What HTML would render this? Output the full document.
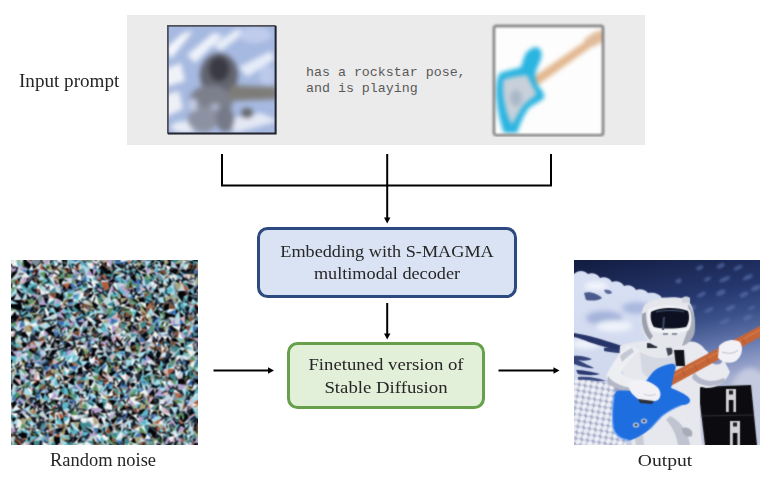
<!DOCTYPE html>
<html><head><meta charset="utf-8">
<style>
html,body{margin:0;padding:0;background:#fff;}
body{width:770px;height:484px;position:relative;overflow:hidden;font-family:"Liberation Serif",serif;color:#262626;}
.a{position:absolute;}
.lbl{position:absolute;white-space:nowrap;font-size:17px;line-height:20px;}
#prompt{left:127px;top:15px;width:518px;height:130.3px;background:#ebebeb;}
#mono{left:306px;top:65px;font-family:"Liberation Mono",monospace;font-size:13.3px;line-height:16px;color:#5a5a5a;white-space:pre;}
.box{position:absolute;box-sizing:border-box;border-radius:10.5px;}
.txt{position:absolute;width:400px;text-align:center;white-space:nowrap;}
#blue{left:257px;top:226.5px;width:260px;height:71.5px;background:#dae3f3;border:3px solid #2c4a80;}
#green{left:287px;top:342px;width:198px;height:67px;background:#e2efd9;border:3px solid #66a04a;}
svg{position:absolute;left:0;top:0;}
svg.img{position:absolute;}
</style></head>
<body>
<div class="lbl" style="left:19px;top:70.5px;font-size:18.6px;transform:scaleX(1.027);transform-origin:0 0;">Input prompt</div>
<div class="a" id="prompt"></div>
<div class="a" id="mono">has a rockstar pose,
and is playing</div>

<svg class="img" style="left:164.7px;top:23.4px" width="114" height="113" viewBox="-2 -2 114 113">
<defs>
<filter id="b1" color-interpolation-filters="sRGB" x="-0.1" y="-0.1" width="1.2" height="1.2"><feGaussianBlur stdDeviation="2.8"/></filter>
<filter id="b1s" color-interpolation-filters="sRGB" x="-0.1" y="-0.1" width="1.2" height="1.2"><feGaussianBlur stdDeviation="0.7"/></filter>
<clipPath id="c1"><rect width="109.5" height="109.3"/></clipPath>
</defs>
<g clip-path="url(#c1)">
<rect width="110" height="110" fill="#a6b9e0"/>
<g filter="url(#b1)">
<path d="M-2 24 L16 8 L26 6 L4 34 Z" fill="#f4f6fb"/>
<path d="M20 30 L46 8 L56 10 L28 38 Z" fill="#eef2fa"/>
<path d="M46 20 L70 4 L80 6 L54 26 Z" fill="#e8eef8"/>
<path d="M-2 44 L14 38 L18 56 L-2 62 Z" fill="#f0f2f8"/>
<path d="M72 42 L104 26 L108 34 L80 52 Z" fill="#e6ecf8"/>
<path d="M-2 70 L12 66 L16 84 L-2 92 Z" fill="#eef0f6"/>
<path d="M60 94 L94 88 L112 96 L68 108 Z" fill="#e4e8f4"/>
<ellipse cx="88" cy="10" rx="16" ry="8" fill="#c0ccec"/>
<ellipse cx="18" cy="102" rx="14" ry="6" fill="#e8ecf6"/>
<ellipse cx="100" cy="50" rx="8" ry="10" fill="#bccaea"/>
<ellipse cx="52" cy="50" rx="19" ry="22" fill="#62646e"/>
<ellipse cx="52" cy="44" rx="10" ry="12" fill="#3a3a44"/>
<ellipse cx="44" cy="76" rx="22" ry="16" fill="#7c808c"/>
<ellipse cx="36" cy="94" rx="15" ry="13" fill="#8c92a2"/>
<ellipse cx="58" cy="94" rx="9" ry="13" fill="#767a88"/>
<path d="M62 60 L110 62 L110 74 L64 76 Z" fill="#7e7c78"/>
<ellipse cx="80" cy="88" rx="6" ry="5" fill="#66666c"/>
<ellipse cx="26" cy="80" rx="5" ry="7" fill="#c0c8e0"/>
<ellipse cx="48" cy="82" rx="5" ry="4" fill="#a8b0c6"/>
</g>
</g>
<path d="M0.9 108.4 V0.9 H108.6" fill="none" stroke="#50505a" stroke-width="1.8" filter="url(#b1s)"/><path d="M108.6 0.9 V108.4 H0.9" fill="none" stroke="#24242c" stroke-width="2" filter="url(#b1s)"/>
</svg>

<svg class="img" style="left:490.2px;top:22.1px" width="116" height="115" viewBox="-4 -4 116 115">
<defs>
<filter id="b2" color-interpolation-filters="sRGB" x="-0.2" y="-0.2" width="1.4" height="1.4"><feGaussianBlur stdDeviation="2.3"/></filter>
<filter id="b2s" color-interpolation-filters="sRGB" x="-0.1" y="-0.1" width="1.2" height="1.2"><feGaussianBlur stdDeviation="0.8"/></filter>
<clipPath id="c2"><rect width="109" height="109"/></clipPath>
</defs>
<rect width="109" height="109" fill="#fdfdfd"/>
<g clip-path="url(#c2)" filter="url(#b2)">
<path d="M38 52 L96 12 L100 19 L44 59 Z" fill="#e2b890"/>
<path d="M90 14 C96 8 104 4 110 4 L112 14 C106 18 100 20 96 22 Z" fill="#e0bc9c"/>
<path d="M6 47 C14 44 22 43 27 41 C29 35 30 29 33 26 C37 22 42 20 45 22 C48 25 48 30 47 33 C45 38 42 43 41 49 C41 54 43 58 45 61 C48 64 51 68 50 72 C46 76 40 78 35 82 C30 88 26 98 23 107 L10 107 C6 96 3 82 2 68 C2 58 3 51 6 47 Z" fill="#2ab4e0"/>
<path d="M9 54 C16 51 24 50 33 49 C36 55 39 62 43 68 C39 72 33 75 29 80 C25 86 21 94 18 99 C13 90 10 78 9 66 Z" fill="#c8d0da"/>
<ellipse cx="22" cy="72" rx="6" ry="8" fill="#aab8c8"/>
</g>
<rect x="0" y="0" width="109" height="109.1" rx="2" fill="none" stroke="#787878" stroke-width="2.4" filter="url(#b2s)"/>
</svg>


<svg width="770" height="484">
<g fill="none" stroke="#000" stroke-width="2">
<path d="M222 154V185.5H551V154"/>
<path d="M387.2 154V218"/>
<path d="M387.2 303V334"/>
<path d="M213.5 370.5H268"/>
<path d="M498.5 370.5H554"/>
</g>
<g fill="#000">
<path d="M384 217.5L390.4 217.5L387.2 223.5Z"/>
<path d="M384 333.5L390.4 333.5L387.2 339.5Z"/>
<path d="M268 367.3L268 373.7L274 370.5Z"/>
<path d="M553.5 367.3L553.5 373.7L559.5 370.5Z"/>
</g>
</svg>

<div class="box" id="blue"></div>
<div class="txt" style="left:187px;top:240px;font-size:17.6px;line-height:22.2px;transform:scaleX(1.035);">Embedding with S-MAGMA<br>multimodal decoder</div>
<div class="box" id="green"></div>
<div class="txt" style="left:186px;top:353px;font-size:17.6px;line-height:22.5px;transform:scaleX(1.066);">Finetuned version of<br>Stable Diffusion</div>

<svg class="img" style="left:11px;top:260px" width="187" height="185" viewBox="0 0 187 185"><defs><filter id="nb" color-interpolation-filters="sRGB" filterUnits="userSpaceOnUse" x="0" y="0" width="187" height="185"><feConvolveMatrix order="3" kernelMatrix="1 2 1 2 4 2 1 2 1" divisor="16" edgeMode="duplicate"/></filter><clipPath id="nc"><rect width="187" height="185"/></clipPath></defs><g clip-path="url(#nc)"><g filter="url(#nb)"><path fill="#04060a" d="M-4 -4L1 -3 -1 2ZM-4 -4L-1 2 -4 2ZM6 -3L8 -5 9 -1ZM29 -4L33 -1 31 0ZM53 -6L55 -3 51 -0ZM71 -3L70 -0 68 1ZM77 -4L81 -0 75 1ZM80 -3L89 2 81 -0ZM108 -4L110 2 105 -2ZM148 -4L148 1 145 1ZM148 -4L153 -0 148 1ZM157 -3L160 1 153 -0ZM181 -4L188 1 182 1ZM188 -3L190 -3 191 1ZM188 -3L191 1 188 1ZM13 -2L21 5 13 6ZM20 2L25 6 21 5ZM31 0L30 3 25 6ZM39 1L43 -0 39 4ZM51 -0L59 -2 51 3ZM70 -0L75 1 75 3ZM110 2L114 6 109 4ZM140 1L145 1 141 4ZM145 1L148 3 145 5ZM153 -0L154 5 148 3ZM160 1L160 7 154 5ZM177 1L182 1 183 6ZM10 5L13 6 16 10ZM13 6L21 5 18 10ZM21 5L25 6 22 10ZM25 6L30 3 22 10ZM39 4L44 6 42 11ZM51 3L57 5 52 8ZM91 4L91 9 86 10ZM91 4L97 10 91 9ZM103 4L109 4 112 10ZM130 4L135 7 130 11ZM145 5L143 11 141 8ZM154 5L157 11 154 9ZM164 4L170 3 168 10ZM191 4L193 10 186 11ZM-3 11L0 9 1 12ZM7 10L6 13 1 12ZM16 10L18 10 18 16ZM16 10L18 16 15 13ZM35 11L36 10 34 12ZM78 9L82 9 82 16ZM86 10L87 15 82 16ZM91 9L97 10 95 15ZM97 10L99 9 101 13ZM97 10L101 13 95 15ZM120 10L118 15 116 15ZM126 10L130 13 123 13ZM130 11L134 9 136 14ZM147 11L154 9 147 13ZM157 11L157 13 156 15ZM157 11L165 8 165 15ZM165 8L168 10 165 15ZM168 10L173 9 173 14ZM176 10L184 8 176 14ZM186 11L193 10 193 15ZM186 11L193 15 187 13ZM195 11L198 14 193 15ZM1 12L6 13 0 20ZM18 16L22 15 25 17ZM22 15L28 13 25 17ZM34 12L38 17 34 19ZM101 13L104 17 102 18ZM104 14L111 13 104 17ZM123 13L125 18 119 18ZM130 13L136 14 133 18ZM183 14L187 13 186 17ZM0 20L-2 26 -6 22ZM6 19L8 17 9 24ZM21 19L18 24 13 23ZM25 17L30 23 26 24ZM47 19L54 18 49 26ZM102 18L100 23 97 22ZM102 18L105 22 100 23ZM119 18L125 18 126 24ZM151 17L152 20 152 23ZM158 17L162 22 157 25ZM163 21L168 19 169 24ZM13 23L18 24 16 30ZM52 24L56 29 51 31ZM59 23L62 30 56 29ZM97 22L100 27 98 29ZM152 23L153 27 147 28ZM176 23L184 26 178 30ZM188 23L192 23 193 29ZM196 22L196 27 193 29ZM5 27L11 33 6 33ZM16 30L18 28 15 32ZM39 31L44 27 37 34ZM49 28L51 31 52 31ZM77 28L83 28 78 34ZM83 28L86 28 88 32ZM122 28L121 33 117 35ZM122 28L126 28 124 34ZM144 29L147 28 149 34ZM144 29L149 34 142 32ZM168 31L174 31 166 34ZM174 31L174 36 166 34ZM178 30L183 35 177 35ZM183 30L187 29 183 35ZM6 33L3 40 -2 39ZM15 32L21 40 16 39ZM30 35L35 34 32 37ZM35 34L37 34 38 38ZM45 32L50 34 46 38ZM45 32L46 38 44 39ZM52 31L53 38 46 38ZM78 34L83 33 78 39ZM83 33L81 37 78 39ZM88 32L90 33 86 38ZM109 34L117 38 110 38ZM124 34L131 33 128 37ZM141 32L144 40 141 39ZM166 34L174 36 173 36ZM166 34L173 36 168 38ZM177 35L182 38 176 40ZM-2 39L3 40 7 44ZM3 40L11 40 7 44ZM16 39L19 45 12 44ZM27 37L28 45 25 45ZM32 37L38 38 35 45ZM46 38L53 38 52 42ZM56 39L63 42 57 42ZM78 39L80 41 79 45ZM86 38L92 40 92 42ZM107 39L110 38 109 44ZM117 38L115 44 109 44ZM117 38L118 38 115 44ZM118 38L124 39 127 44ZM124 39L128 42 127 44ZM128 37L133 38 128 42ZM133 38L135 43 128 42ZM168 38L173 36 172 43ZM176 40L182 38 180 43ZM194 39L197 36 191 41ZM-0 44L7 44 -1 48ZM7 44L6 50 -1 48ZM7 44L10 41 6 50ZM10 41L12 50 6 50ZM28 45L35 45 35 47ZM28 45L35 47 29 48ZM66 43L69 47 62 46ZM66 43L70 43 69 47ZM79 45L78 47 71 49ZM80 41L88 45 83 49ZM118 43L121 48 113 46ZM135 43L139 43 135 48ZM148 43L153 43 152 46ZM159 42L158 49 152 46ZM6 50L12 50 4 51ZM14 47L15 51 9 53ZM21 46L24 49 18 53ZM24 49L29 48 25 53ZM35 47L39 49 38 53ZM42 47L48 48 49 52ZM42 47L49 52 45 53ZM52 48L56 46 57 51ZM62 46L69 47 69 52ZM111 48L110 52 107 52ZM111 48L113 46 110 52ZM130 46L129 51 126 51ZM130 46L135 48 136 54ZM147 49L148 51 142 52ZM152 46L158 49 154 52ZM165 49L168 51 165 55ZM174 46L179 47 178 51ZM182 46L187 52 185 53ZM-6 55L-1 51 -1 58ZM4 51L7 57 -1 58ZM15 51L18 53 13 56ZM32 52L37 57 33 59ZM38 53L45 53 37 57ZM49 52L54 54 54 59ZM54 54L56 60 54 59ZM94 55L94 59 89 59ZM126 51L132 56 124 57ZM142 52L148 51 150 58ZM154 52L157 53 153 59ZM157 53L159 57 153 59ZM157 53L165 55 164 58ZM157 53L164 58 159 57ZM168 51L174 56 169 58ZM174 51L178 55 174 56ZM187 52L192 55 192 58ZM192 55L196 52 195 56ZM-1 58L7 57 5 62ZM11 58L10 61 5 62ZM11 58L13 56 10 61ZM33 59L35 62 29 62ZM73 59L75 58 77 60ZM75 58L83 64 77 60ZM85 57L92 63 87 64ZM114 57L122 56 113 62ZM124 57L129 63 123 62ZM140 55L146 57 145 61ZM153 59L159 57 153 60ZM184 59L189 63 183 63ZM192 58L195 56 192 61ZM35 62L39 64 40 66ZM39 64L43 63 40 66ZM77 60L83 66 76 67ZM118 61L123 62 121 66ZM134 61L139 67 135 65ZM164 64L161 66 157 66ZM169 64L174 64 171 67ZM174 64L179 62 171 67ZM183 63L189 63 182 66ZM-1 67L4 71 -2 71ZM40 66L38 74 33 70ZM40 66L45 65 38 74ZM45 65L46 65 42 71ZM64 67L69 70 61 73ZM76 67L76 73 70 73ZM83 66L85 71 80 72ZM107 67L104 72 101 74ZM116 66L121 66 119 73ZM144 66L147 72 144 71ZM148 67L152 68 147 72ZM157 66L161 66 163 72ZM161 66L168 71 163 72ZM170 66L171 67 171 73ZM170 66L171 73 168 71ZM-5 74L-2 71 -2 77ZM11 72L14 72 8 76ZM14 72L17 78 8 76ZM14 72L18 77 17 78ZM24 73L29 72 27 79ZM38 74L42 71 45 78ZM98 73L101 74 100 77ZM101 74L104 72 104 75ZM137 70L135 78 129 76ZM140 73L144 71 140 76ZM144 71L147 72 149 76ZM196 72L195 75 193 78ZM-2 77L4 77 4 81ZM18 77L23 81 20 82ZM50 78L53 81 50 80ZM88 77L91 77 88 81ZM91 77L95 75 90 82ZM95 75L96 80 90 82ZM100 77L102 83 96 80ZM104 75L112 84 106 82ZM125 76L129 82 124 82ZM135 78L140 76 135 82ZM142 75L148 82 145 82ZM151 76L154 80 148 82ZM157 76L159 80 154 80ZM164 77L163 82 159 80ZM164 77L169 83 163 82ZM176 77L185 81 177 82ZM-5 82L-2 83 -4 88ZM-2 83L5 87 -2 86ZM10 83L14 82 16 85ZM10 83L16 85 12 88ZM34 80L34 87 28 88ZM42 80L44 88 39 88ZM42 80L50 80 48 86ZM56 81L56 88 53 87ZM56 81L62 86 56 88ZM88 81L91 86 87 88ZM102 83L106 82 99 85ZM106 82L112 84 112 88ZM120 82L124 82 119 87ZM124 82L125 85 119 87ZM154 80L159 80 160 86ZM169 83L173 83 170 87ZM173 83L174 88 170 87ZM190 83L197 82 194 87ZM197 82L196 85 194 87ZM5 87L7 91 -0 90ZM12 88L16 85 9 92ZM19 88L26 92 17 90ZM53 87L56 88 56 90ZM80 87L87 88 81 92ZM87 88L84 93 81 92ZM112 88L109 91 104 90ZM115 85L114 91 109 91ZM133 88L136 91 128 93ZM156 84L160 86 157 90ZM160 86L161 85 164 93ZM174 88L175 86 176 90ZM-0 90L-2 95 -7 98ZM-0 90L6 97 -2 95ZM17 90L26 92 22 94ZM34 91L38 90 37 97ZM41 90L43 95 37 97ZM41 90L48 89 43 95ZM70 89L72 96 66 96ZM81 92L84 96 78 96ZM81 92L84 93 84 96ZM84 93L93 92 92 96ZM102 92L99 96 97 97ZM114 91L122 93 114 94ZM136 91L135 95 130 98ZM146 90L151 93 144 97ZM151 93L148 98 144 97ZM169 89L172 91 172 95ZM169 89L172 95 169 95ZM186 91L188 95 182 96ZM194 92L198 93 190 94ZM31 98L33 96 34 99ZM31 98L34 99 29 101ZM37 97L43 99 37 102ZM78 96L78 101 70 101ZM88 98L92 96 92 100ZM92 96L97 97 95 101ZM92 96L95 101 92 100ZM111 95L115 100 111 101ZM124 96L130 98 123 99ZM135 95L141 95 141 100ZM141 95L144 97 141 100ZM144 97L143 102 141 100ZM154 97L155 99 150 100ZM157 97L159 102 155 99ZM162 97L165 99 159 102ZM180 97L182 96 178 101ZM190 94L197 96 198 99ZM16 101L18 103 13 107ZM18 103L24 102 23 107ZM18 103L23 107 21 106ZM61 102L61 106 57 106ZM78 101L78 106 72 106ZM101 103L103 106 97 103ZM106 101L107 106 103 106ZM111 101L116 107 110 104ZM135 101L138 104 137 108ZM143 102L150 100 149 106ZM155 99L159 102 153 106ZM169 101L175 105 170 104ZM175 100L178 101 177 104ZM175 100L177 104 175 105ZM193 99L194 106 187 107ZM-0 107L-1 109 -6 109ZM13 107L21 106 19 109ZM23 107L31 106 24 109ZM51 105L53 109 50 110ZM51 105L57 106 59 110ZM72 106L71 110 67 108ZM72 106L78 106 76 111ZM78 106L82 106 76 111ZM90 107L92 111 88 112ZM103 106L102 110 96 113ZM116 107L120 105 120 112ZM120 105L124 107 120 112ZM145 105L149 106 143 109ZM153 106L157 104 152 111ZM163 105L169 111 164 109ZM170 104L174 111 169 111ZM-6 109L1 114 -6 116ZM13 109L19 109 18 115ZM30 109L34 117 28 113ZM35 112L40 109 34 117ZM64 111L64 116 56 115ZM67 108L71 110 73 115ZM67 108L73 115 66 114ZM76 111L79 110 76 115ZM88 112L92 111 91 115ZM88 112L91 115 88 115ZM102 110L100 117 97 114ZM102 110L106 112 100 117ZM114 111L120 112 119 117ZM114 111L119 117 115 114ZM127 113L132 108 131 115ZM127 113L131 115 123 114ZM133 110L141 111 133 116ZM143 109L145 115 141 114ZM148 109L155 116 151 116ZM182 110L187 112 188 115ZM187 112L192 112 188 115ZM192 112L197 109 197 113ZM4 115L3 118 1 122ZM4 115L9 115 3 118ZM9 115L10 120 3 118ZM16 116L18 115 20 121ZM28 113L33 119 29 120ZM48 114L52 122 49 121ZM53 115L60 118 52 122ZM88 115L91 115 92 119ZM91 115L98 120 92 119ZM104 116L105 120 102 122ZM123 114L129 121 126 120ZM145 115L148 118 143 119ZM157 115L165 122 158 119ZM188 115L193 117 188 119ZM1 122L3 118 6 126ZM3 118L10 126 6 126ZM10 120L14 123 10 126ZM29 120L28 125 22 124ZM45 118L49 121 48 125ZM52 122L53 124 48 125ZM60 118L63 119 64 126ZM60 118L64 126 57 123ZM78 119L83 120 78 126ZM83 120L80 126 78 126ZM111 119L109 127 105 127ZM115 122L119 123 117 127ZM126 120L129 121 125 123ZM167 119L173 118 167 124ZM173 118L175 125 167 124ZM181 118L188 119 187 125ZM-4 124L2 124 1 131ZM14 123L19 127 21 131ZM22 124L28 125 24 128ZM37 123L44 131 39 128ZM48 125L53 127 49 130ZM57 123L57 129 53 127ZM109 127L117 132 111 128ZM117 127L119 123 117 132ZM119 123L125 123 121 129ZM139 127L142 124 143 128ZM142 124L148 128 143 128ZM164 125L163 128 156 131ZM193 125L194 129 186 129ZM193 125L197 127 194 129ZM24 128L24 136 21 135ZM39 128L43 132 37 134ZM44 131L49 130 43 132ZM49 130L53 134 47 136ZM69 130L68 133 62 134ZM72 130L78 130 78 134ZM81 129L88 132 86 134ZM97 129L102 129 96 136ZM111 128L109 133 107 136ZM143 128L144 135 137 135ZM152 132L156 131 158 132ZM163 128L168 130 169 134ZM175 129L183 131 182 135ZM10 134L14 135 16 141ZM29 133L34 133 32 140ZM34 133L37 134 39 141ZM57 135L64 140 57 139ZM82 133L86 134 87 138ZM109 133L114 136 109 140ZM149 136L153 139 148 139ZM155 136L158 132 153 139ZM188 133L194 134 191 139ZM5 140L6 144 -0 143ZM29 139L30 144 22 143ZM42 139L49 140 45 145ZM57 139L57 142 51 143ZM97 140L103 140 102 146ZM103 140L106 141 102 146ZM143 137L144 145 138 144ZM143 137L148 139 148 144ZM-0 143L6 144 1 150ZM14 142L20 145 13 149ZM20 145L24 147 18 151ZM33 142L39 149 32 150ZM69 142L70 146 73 150ZM84 144L92 142 88 148ZM92 142L92 149 88 148ZM113 145L116 150 108 151ZM119 146L120 149 116 150ZM162 143L167 147 161 147ZM166 143L171 151 167 147ZM193 146L196 147 194 149ZM7 150L6 153 -1 153ZM7 150L10 150 6 153ZM45 148L47 149 44 152ZM47 149L52 150 47 152ZM73 150L70 154 67 155ZM77 150L81 148 80 153ZM77 150L80 153 78 153ZM92 149L98 153 89 153ZM105 151L108 151 107 153ZM120 149L126 154 121 155ZM128 150L136 148 129 156ZM136 148L139 155 137 155ZM143 150L146 154 139 155ZM148 150L152 153 147 154ZM181 147L184 154 177 155ZM196 147L199 152 191 154ZM10 152L16 159 8 158ZM24 153L28 160 26 157ZM34 155L38 153 38 159ZM60 155L61 159 59 157ZM78 153L80 153 76 158ZM80 153L82 157 76 158ZM80 153L88 155 87 160ZM107 153L111 155 112 159ZM117 152L121 155 114 160ZM121 155L126 159 118 159ZM126 154L128 157 126 159ZM137 155L139 155 135 158ZM139 155L142 159 140 159ZM152 153L160 157 154 158ZM164 155L161 158 160 157ZM170 153L172 160 168 159ZM175 153L177 155 172 160ZM177 155L178 158 172 160ZM188 155L191 154 191 158ZM191 154L195 160 191 158ZM0 158L6 158 2 163ZM16 159L19 156 14 161ZM44 159L44 164 38 163ZM49 159L53 157 52 164ZM59 157L61 159 61 162ZM59 157L61 162 58 164ZM61 159L68 162 61 162ZM87 160L90 157 93 165ZM87 160L93 165 88 163ZM95 157L94 161 93 165ZM95 157L102 165 94 161ZM99 160L108 156 102 165ZM114 160L118 159 114 163ZM126 159L128 164 127 164ZM135 158L140 159 141 165ZM140 159L142 163 141 165ZM161 158L169 164 165 165ZM168 159L172 160 173 163ZM172 160L178 158 173 163ZM183 156L189 160 187 165ZM189 160L191 158 192 164ZM191 158L195 160 192 164ZM58 164L59 167 55 167ZM68 162L72 170 67 169ZM78 161L75 167 72 170ZM141 165L138 166 133 166ZM142 163L150 168 146 167ZM169 164L170 166 165 169ZM169 164L173 163 170 166ZM173 163L175 169 170 166ZM183 163L187 165 182 170ZM187 165L192 164 189 170ZM43 169L48 168 48 173ZM48 168L55 167 48 173ZM55 167L59 175 53 175ZM59 167L61 167 64 174ZM82 168L86 174 84 172ZM87 168L89 169 86 174ZM89 169L92 172 86 174ZM97 166L102 166 100 173ZM102 166L106 169 107 173ZM110 166L114 169 117 173ZM114 169L120 169 121 172ZM138 166L139 173 136 174ZM138 166L146 173 139 173ZM160 167L162 171 159 173ZM6 174L12 172 11 179ZM12 172L16 173 16 178ZM12 172L16 178 11 179ZM19 172L26 177 20 176ZM22 171L29 176 26 177ZM37 172L42 175 43 176ZM37 172L43 176 38 177ZM100 173L101 178 98 178ZM128 172L136 174 134 179ZM139 173L146 173 144 180ZM155 174L152 176 150 176ZM159 173L164 176 157 177ZM188 172L194 171 186 178ZM194 171L197 177 192 176ZM-6 180L-1 178 1 181ZM16 178L20 176 18 183ZM43 176L49 177 43 181ZM49 177L49 183 43 181ZM58 179L56 182 51 181ZM62 176L68 178 63 183ZM68 178L72 180 66 184ZM72 180L75 181 74 182ZM76 178L80 176 75 181ZM98 178L101 178 102 184ZM113 175L114 184 111 181ZM123 177L126 184 119 182ZM181 179L186 178 183 183ZM43 181L49 183 45 186ZM83 181L87 183 82 185ZM102 184L105 180 100 186ZM151 183L149 187 144 185ZM160 182L163 182 158 188ZM183 183L189 183 182 186ZM189 183L185 186 182 186ZM192 184L199 181 199 189ZM192 184L199 189 192 188ZM2 188L3 193 0 193ZM9 186L13 186 15 190ZM18 189L24 191 21 192ZM45 186L44 193 37 193ZM51 189L59 187 55 190ZM87 186L91 187 92 192ZM97 188L100 186 100 194ZM132 188L134 189 133 191ZM134 189L138 186 137 193ZM144 185L149 187 150 194ZM169 185L173 188 173 192ZM3 193L11 191 5 198ZM15 190L16 198 11 198ZM82 193L84 193 87 196ZM92 192L95 196 91 199ZM95 194L101 197 95 196ZM111 192L117 192 112 195ZM137 193L142 193 146 197ZM165 190L162 198 159 198ZM173 192L179 193 173 196ZM187 190L190 196 188 197Z"/><path fill="#1a2434" d="M16 -4L21 -6 13 -2ZM21 -6L23 -2 20 2ZM44 -6L49 -6 46 2ZM99 -7L101 -1 96 1ZM162 -4L162 2 160 1ZM178 -4L181 -4 182 1ZM46 2L51 3 49 6ZM177 1L178 3 171 5ZM191 1L198 1 191 4ZM2 6L7 7 7 10ZM100 7L103 4 105 11ZM130 4L130 11 126 10ZM160 7L165 8 157 11ZM183 6L186 11 184 8ZM60 9L63 14 57 14ZM63 9L68 10 69 14ZM105 11L112 10 111 13ZM112 10L116 15 111 13ZM120 10L123 13 118 15ZM173 9L176 10 176 14ZM173 9L176 14 173 14ZM184 8L183 14 176 14ZM1 12L0 20 -3 19ZM37 14L41 12 38 17ZM54 13L57 14 54 18ZM90 15L95 20 90 20ZM95 15L102 18 95 20ZM116 15L115 21 109 17ZM118 15L123 13 119 18ZM147 13L152 20 151 17ZM183 14L186 17 184 17ZM66 19L70 21 65 25ZM70 21L76 21 73 23ZM90 20L90 22 86 24ZM102 18L104 17 105 22ZM151 17L148 22 143 25ZM171 17L179 19 171 22ZM186 17L192 17 188 23ZM-6 22L1 27 -4 30ZM49 26L52 24 49 28ZM65 25L73 23 67 28ZM75 22L80 22 83 28ZM86 24L93 30 86 28ZM148 22L147 28 144 29ZM188 23L187 29 183 30ZM18 28L26 29 26 35ZM29 29L30 35 26 35ZM51 31L56 29 57 32ZM51 31L57 32 52 31ZM77 28L78 34 72 32ZM93 30L98 29 97 35ZM98 29L100 27 97 35ZM193 29L195 32 193 33ZM6 33L11 33 11 40ZM11 33L15 32 11 40ZM26 35L25 40 21 40ZM35 34L38 38 32 37ZM90 33L97 35 95 37ZM149 34L155 36 147 38ZM152 32L159 34 160 38ZM56 39L62 39 63 42ZM160 38L159 42 153 43ZM160 38L163 44 159 42ZM197 36L196 43 191 41ZM37 44L42 47 39 49ZM88 45L86 49 83 49ZM95 45L98 48 90 47ZM115 44L118 43 113 46ZM148 43L152 46 147 49ZM159 42L163 44 165 49ZM24 49L25 53 18 53ZM48 48L52 48 49 52ZM56 46L62 46 61 52ZM69 47L73 53 69 52ZM83 49L83 52 79 51ZM121 48L126 46 126 51ZM165 49L166 49 168 51ZM174 46L178 51 174 51ZM182 46L188 48 187 52ZM94 55L100 53 94 59ZM107 52L110 52 106 58ZM-1 58L5 62 -1 64ZM13 56L13 60 10 61ZM13 56L21 57 20 63ZM46 56L54 59 46 61ZM73 59L77 60 73 62ZM80 58L85 57 87 64ZM94 59L99 64 98 63ZM174 56L178 55 174 64ZM-3 64L-1 64 -4 68ZM46 61L51 68 46 65ZM67 62L73 62 69 68ZM83 64L87 64 86 69ZM109 62L113 62 116 66ZM145 61L148 67 144 66ZM95 68L101 74 98 73ZM121 66L125 65 127 74ZM130 69L135 65 137 70ZM152 68L155 72 147 72ZM188 67L187 74 182 72ZM4 71L11 72 8 76ZM48 72L50 78 45 78ZM70 73L78 78 70 76ZM80 72L85 71 88 77ZM114 74L121 78 117 77ZM127 74L129 76 125 76ZM129 74L137 70 129 76ZM163 72L167 78 164 77ZM187 74L187 78 183 78ZM187 74L193 71 187 78ZM-2 77L4 81 -2 83ZM18 77L22 75 23 81ZM22 75L27 79 29 82ZM22 75L29 82 23 81ZM54 76L56 76 53 81ZM61 75L69 80 61 81ZM95 75L100 77 96 80ZM129 76L135 78 135 82ZM142 75L145 82 141 82ZM53 81L56 81 53 87ZM71 82L74 85 65 85ZM77 80L80 87 76 88ZM124 82L129 82 130 85ZM135 82L133 88 130 85ZM159 80L161 85 160 86ZM-2 86L5 87 -0 90ZM53 87L54 90 48 89ZM62 86L62 90 56 90ZM80 87L81 92 78 92ZM87 88L91 86 93 92ZM95 86L99 85 102 92ZM145 87L151 93 146 90ZM26 92L31 98 22 94ZM94 91L102 92 97 97ZM102 92L104 90 104 94ZM122 93L118 97 114 94ZM141 90L141 95 135 95ZM155 92L157 90 157 97ZM33 96L37 97 34 99ZM37 97L37 102 34 99ZM37 97L43 95 43 99ZM88 98L92 100 87 101ZM104 94L111 101 106 101ZM114 94L118 97 115 100ZM144 97L150 100 143 102ZM154 97L157 97 155 99ZM190 94L193 99 187 99ZM190 94L198 99 193 99ZM37 102L40 106 32 106ZM54 100L56 102 57 106ZM150 100L155 99 153 106ZM-6 108L-0 107 -6 109ZM21 106L24 109 19 109ZM31 106L30 109 24 109ZM40 106L42 104 45 110ZM40 106L45 110 40 109ZM107 106L110 104 111 111ZM110 104L114 111 111 111ZM138 104L145 105 141 111ZM175 105L177 104 174 111ZM194 106L195 105 192 112ZM71 110L76 111 76 115ZM120 112L123 114 119 117ZM143 109L151 116 145 115ZM148 109L152 111 155 116ZM164 109L164 114 157 115ZM16 116L20 121 14 119ZM40 116L43 115 45 118ZM64 116L63 119 60 118ZM104 116L109 115 111 119ZM119 117L123 114 121 119ZM123 114L131 115 129 121ZM164 114L167 119 165 122ZM33 119L38 122 35 123ZM74 121L73 125 65 124ZM83 120L85 121 85 123ZM85 121L92 126 85 123ZM173 118L176 125 175 125ZM53 124L57 123 53 127ZM78 126L81 129 78 130ZM187 125L193 125 186 129ZM197 127L195 129 194 129ZM-3 131L1 131 -3 134ZM81 129L82 133 78 134ZM88 132L90 131 89 133ZM117 132L121 129 114 136ZM168 130L171 130 169 134ZM171 130L174 136 169 134ZM183 131L186 129 182 135ZM194 129L195 129 194 134ZM10 134L16 141 9 138ZM53 134L57 139 52 138ZM68 133L73 134 72 139ZM137 135L138 138 136 137ZM144 135L143 137 138 138ZM158 132L163 132 160 138ZM179 135L179 140 172 141ZM194 134L197 133 195 139ZM17 137L24 137 20 145ZM64 140L69 141 69 142ZM117 138L118 138 113 145ZM123 140L129 141 130 143ZM129 141L136 137 130 143ZM136 137L138 138 138 144ZM143 137L148 144 144 145ZM22 143L30 144 31 149ZM50 144L51 143 52 150ZM50 144L52 150 47 149ZM57 142L61 146 58 148ZM130 143L128 150 126 148ZM148 144L148 150 143 150ZM148 144L152 144 153 147ZM162 143L166 143 167 147ZM-5 147L1 150 -4 153ZM13 149L21 155 15 152ZM31 149L28 155 24 153ZM32 150L39 149 34 155ZM94 149L102 150 98 153ZM128 150L129 156 126 154ZM160 147L164 155 159 154ZM167 147L170 153 164 155ZM177 150L181 147 177 155ZM28 155L35 159 28 160ZM52 155L59 157 53 157ZM111 155L114 160 112 159ZM129 156L135 158 128 157ZM188 155L191 158 189 160ZM19 156L26 157 24 164ZM19 156L24 164 21 161ZM28 160L33 161 27 163ZM38 159L38 163 33 161ZM65 160L71 158 68 162ZM112 159L114 160 111 163ZM114 160L114 163 111 163ZM183 156L187 165 183 163ZM2 163L6 165 3 167ZM24 164L24 167 20 168ZM24 164L27 163 28 170ZM27 163L33 161 28 170ZM104 165L111 163 106 169ZM120 162L127 164 120 169ZM135 165L141 165 133 166ZM159 164L165 169 160 167ZM24 167L22 171 19 172ZM35 166L37 170 32 172ZM67 169L72 170 69 172ZM72 170L79 172 72 172ZM75 167L84 172 79 172ZM106 169L110 166 110 171ZM138 166L146 167 146 173ZM165 169L170 166 166 174ZM-3 174L-1 178 -6 180ZM84 172L86 174 85 176ZM146 173L150 176 144 180ZM172 173L173 179 166 177ZM4 176L11 179 11 183ZM62 176L63 183 56 182ZM101 178L105 179 105 180ZM141 179L144 180 137 182ZM152 176L157 177 153 185ZM192 176L197 177 199 181ZM192 176L199 181 192 184ZM11 183L13 182 9 186ZM18 183L23 181 24 189ZM31 180L31 187 24 189ZM38 183L37 187 32 189ZM105 180L111 188 107 185ZM153 185L160 182 158 188ZM163 182L166 183 164 188ZM51 189L55 190 46 192ZM138 186L144 185 142 193ZM176 187L182 186 179 193ZM33 192L37 193 40 196ZM33 192L40 196 32 198ZM46 192L53 196 46 198ZM69 191L65 198 64 196ZM69 191L72 194 65 198ZM82 193L82 197 77 196ZM133 191L137 193 141 197ZM165 190L169 194 168 197ZM165 190L168 197 162 198ZM169 194L173 192 173 196Z"/><path fill="#eef2f2" d="M21 -6L24 -6 23 -2ZM31 -6L37 -3 33 -1ZM49 -6L51 -0 46 2ZM61 -6L69 -3 68 1ZM71 -3L77 -4 75 1ZM77 -4L80 -3 81 -0ZM80 -3L87 -3 89 2ZM99 -7L105 -4 105 -2ZM108 -4L117 1 110 2ZM124 -5L130 -7 123 -1ZM172 -5L171 0 169 0ZM-1 2L5 -1 2 6ZM5 -1L7 7 2 6ZM43 -0L49 6 44 6ZM81 -0L89 2 85 3ZM96 1L100 7 96 5ZM120 -1L123 -1 119 3ZM145 1L145 5 141 4ZM198 1L199 4 191 4ZM-5 6L2 6 0 9ZM21 5L22 10 18 10ZM57 5L60 9 52 8ZM75 3L81 3 82 9ZM85 3L91 4 86 10ZM154 5L160 7 157 11ZM170 3L171 5 168 10ZM178 3L176 10 173 9ZM49 9L48 15 41 12ZM60 9L63 9 63 14ZM130 11L136 14 130 13ZM15 13L13 17 8 17ZM15 13L21 19 13 17ZM41 12L48 15 42 18ZM69 14L70 15 66 19ZM70 15L70 21 66 19ZM75 15L82 16 82 20ZM82 16L87 15 86 21ZM130 13L133 18 131 20ZM136 14L138 16 140 21ZM156 15L157 13 158 17ZM165 15L163 21 158 17ZM176 14L184 17 179 19ZM187 13L193 15 192 17ZM193 15L198 14 196 19ZM38 17L42 18 43 25ZM54 18L52 24 49 26ZM82 20L86 21 86 24ZM82 20L86 24 80 22ZM90 20L97 22 90 22ZM140 21L145 19 140 25ZM145 19L143 25 140 25ZM152 20L157 25 152 23ZM168 19L171 22 169 24ZM-6 22L-2 26 1 27ZM-2 26L3 24 5 27ZM-2 26L5 27 1 27ZM9 24L11 29 5 27ZM26 24L29 29 26 29ZM32 24L38 24 35 31ZM38 24L44 27 39 31ZM61 23L65 25 67 28ZM75 22L83 28 77 28ZM80 22L86 24 83 28ZM100 23L105 22 107 29ZM143 25L148 22 144 29ZM148 22L152 23 147 28ZM-4 30L1 27 0 35ZM29 29L35 34 30 35ZM35 31L39 31 35 34ZM83 28L83 33 78 34ZM100 27L99 34 97 35ZM122 28L124 34 121 33ZM163 30L168 31 166 34ZM187 29L193 29 193 33ZM187 29L193 33 186 34ZM193 29L196 27 195 32ZM69 34L72 32 74 37ZM69 34L74 37 67 40ZM83 33L86 38 81 37ZM124 34L128 37 124 39ZM174 36L176 40 173 36ZM186 34L194 39 185 37ZM38 38L44 39 37 44ZM62 39L67 40 63 42ZM67 40L70 43 66 43ZM81 37L86 38 80 41ZM86 38L88 45 80 41ZM101 39L107 39 103 41ZM-5 44L-1 48 -4 50ZM50 42L52 42 48 48ZM57 42L56 46 52 48ZM95 45L103 47 98 48ZM109 44L115 44 111 48ZM128 42L135 43 135 48ZM144 45L148 43 147 49ZM163 44L166 44 166 49ZM185 43L191 41 194 48ZM185 43L194 48 188 48ZM35 47L38 53 32 52ZM71 49L78 47 79 51ZM113 46L121 48 121 52ZM147 49L154 52 148 51ZM158 49L165 49 157 53ZM188 48L194 48 187 52ZM-1 51L4 51 -1 58ZM32 52L38 53 37 57ZM45 53L46 56 44 58ZM61 52L69 52 61 56ZM83 52L80 58 75 58ZM85 53L93 53 89 59ZM126 51L129 51 132 56ZM136 54L140 55 135 59ZM185 53L187 52 184 59ZM187 52L189 56 184 59ZM75 58L80 58 83 64ZM122 56L123 62 118 61ZM124 57L132 56 129 63ZM135 59L134 61 129 63ZM135 59L141 64 134 61ZM10 61L8 68 6 67ZM13 60L20 63 14 66ZM25 62L22 67 18 65ZM25 62L27 65 22 67ZM87 64L92 63 89 67ZM87 64L89 67 86 69ZM108 61L107 67 101 65ZM153 60L157 66 152 68ZM158 64L164 64 157 66ZM192 61L190 69 188 67ZM59 67L59 70 51 72ZM69 68L72 66 70 73ZM95 68L101 65 101 74ZM116 66L114 74 110 73ZM125 65L130 69 129 74ZM135 65L139 67 137 70ZM157 66L157 73 155 72ZM161 66L170 66 168 71ZM-2 71L4 71 -2 77ZM14 72L21 72 18 77ZM29 72L33 70 33 76ZM110 73L109 76 104 75ZM144 71L149 76 142 75ZM168 71L172 79 167 78ZM193 71L196 72 193 78ZM37 75L45 78 38 82ZM50 78L50 80 42 80ZM109 76L117 77 112 84ZM121 78L120 82 116 80ZM140 76L141 82 135 82ZM142 75L149 76 148 82ZM151 76L157 76 154 80ZM157 76L164 77 159 80ZM193 78L197 82 190 83ZM14 82L20 82 16 85ZM38 82L42 80 39 88ZM88 81L87 88 80 87ZM145 82L148 82 145 87ZM185 81L182 88 175 86ZM188 84L190 83 189 85ZM16 85L13 91 9 92ZM34 87L38 90 34 91ZM65 85L74 85 69 91ZM150 86L156 84 151 93ZM196 85L198 93 194 92ZM13 91L18 95 15 96ZM62 90L69 91 66 96ZM151 93L155 92 154 97ZM176 90L182 91 180 97ZM182 91L186 91 182 96ZM51 96L54 100 49 102ZM62 95L61 102 56 102ZM78 96L84 96 84 100ZM78 96L84 100 78 101ZM162 97L169 95 169 101ZM172 95L178 101 175 100ZM2 103L4 104 -0 107ZM9 100L9 108 4 104ZM9 100L13 107 9 108ZM78 101L84 100 82 106ZM106 101L111 101 110 104ZM121 100L123 99 120 105ZM123 99L124 107 120 105ZM135 101L141 100 138 104ZM185 100L182 108 177 104ZM193 99L195 105 194 106ZM13 107L13 109 9 109ZM13 107L19 109 13 109ZM68 105L67 108 64 111ZM72 106L76 111 71 110ZM97 103L96 113 92 111ZM124 107L129 104 132 108ZM163 105L170 104 169 111ZM194 106L192 112 187 112ZM53 109L59 110 56 115ZM79 110L81 116 76 115ZM120 112L127 113 123 114ZM143 109L148 109 151 116ZM164 109L169 111 164 114ZM169 111L166 117 164 114ZM28 113L29 120 25 120ZM40 116L38 122 33 119ZM43 115L48 114 45 118ZM53 115L56 115 60 118ZM76 115L81 116 78 119ZM81 116L85 121 83 120ZM97 114L100 117 102 122ZM109 115L115 114 115 122ZM151 116L155 116 155 122ZM20 121L25 120 19 127ZM38 122L37 123 35 123ZM52 122L60 118 57 123ZM98 120L102 122 95 124ZM105 120L105 127 102 124ZM105 120L111 119 105 127ZM126 120L125 123 119 123ZM129 121L131 125 125 123ZM134 121L139 127 136 125ZM148 118L155 122 155 127ZM158 119L160 125 155 127ZM176 120L181 118 176 125ZM6 126L10 126 9 128ZM10 126L14 123 9 128ZM14 123L21 131 16 128ZM43 126L49 130 44 131ZM78 126L80 126 81 129ZM80 126L85 123 81 129ZM105 127L107 130 102 129ZM125 123L126 128 121 129ZM176 125L185 125 183 131ZM16 128L21 131 21 135ZM102 129L102 136 96 136ZM130 129L128 133 123 136ZM134 129L135 135 128 133ZM134 129L137 135 135 135ZM163 128L169 134 163 132ZM194 129L194 134 188 133ZM1 136L1 141 -3 139ZM24 136L24 137 17 137ZM24 136L29 133 24 137ZM37 134L43 132 39 141ZM47 136L49 140 42 139ZM53 134L52 138 49 140ZM73 134L78 140 72 139ZM89 133L97 140 90 138ZM102 136L107 136 103 140ZM123 136L123 140 118 138ZM123 136L128 133 123 140ZM135 135L137 135 136 137ZM182 135L188 133 181 139ZM57 139L61 146 57 142ZM109 140L117 138 113 145ZM118 138L119 146 113 145ZM118 138L123 140 124 145ZM123 140L130 143 124 145ZM153 139L152 144 148 144ZM-0 143L1 150 -5 147ZM6 144L7 150 1 150ZM6 144L9 145 7 150ZM9 145L14 142 13 149ZM80 143L81 148 77 150ZM84 144L88 148 81 148ZM96 142L102 146 102 150ZM96 142L102 150 94 149ZM109 145L108 151 105 151ZM138 144L144 145 139 149ZM148 144L153 147 148 150ZM182 143L187 145 181 147ZM193 146L194 149 185 147ZM193 146L197 143 196 147ZM24 147L31 149 24 153ZM39 149L44 152 38 153ZM77 150L78 153 70 154ZM108 151L117 152 111 155ZM139 149L143 150 139 155ZM160 147L161 147 164 155ZM194 149L196 147 191 154ZM-1 153L6 153 6 158ZM15 152L19 156 16 159ZM21 155L26 157 19 156ZM44 152L47 152 49 159ZM44 152L49 159 44 159ZM57 155L60 155 59 157ZM60 155L67 155 65 160ZM89 153L98 153 95 157ZM98 153L99 155 95 157ZM121 155L126 154 126 159ZM147 154L152 153 154 158ZM152 153L159 154 160 157ZM164 155L168 159 161 158ZM8 158L11 163 6 165ZM59 157L58 164 52 164ZM71 158L74 163 68 162ZM71 158L76 158 74 163ZM76 158L82 157 83 165ZM76 158L83 165 78 161ZM90 157L95 157 93 165ZM112 159L111 163 104 165ZM126 159L128 157 128 164ZM151 158L152 165 147 164ZM2 163L-0 168 -6 168ZM11 163L9 169 3 167ZM88 163L87 168 82 168ZM114 163L120 169 114 169ZM192 164L190 168 189 170ZM192 164L198 167 190 168ZM-0 168L3 167 -2 172ZM3 167L9 169 6 174ZM20 168L24 167 19 172ZM24 167L28 171 22 171ZM37 170L37 172 32 172ZM61 167L67 169 69 172ZM123 169L129 166 128 172ZM129 166L133 166 136 174ZM28 171L33 178 29 176ZM42 175L48 173 43 176ZM79 172L76 178 72 180ZM86 174L90 176 85 176ZM94 174L98 178 90 176ZM110 171L111 177 105 179ZM136 174L141 179 134 179ZM151 172L155 174 150 176ZM155 174L159 173 152 176ZM162 171L166 174 164 176ZM166 174L166 177 164 176ZM172 173L177 174 179 179ZM-6 180L1 181 -4 181ZM-1 178L3 182 1 181ZM68 178L66 184 63 183ZM85 176L90 176 89 181ZM90 176L98 178 95 182ZM118 179L123 177 119 182ZM144 180L151 183 143 183ZM157 177L164 176 160 182ZM181 179L183 183 178 184ZM192 176L192 184 189 183ZM13 182L18 189 13 186ZM32 182L38 183 32 189ZM66 184L74 182 69 187ZM75 181L77 185 71 189ZM75 181L82 185 77 185ZM111 181L116 185 111 188ZM119 182L118 188 116 185ZM119 182L126 184 126 188ZM151 183L152 188 149 187ZM174 182L178 184 176 187ZM32 189L37 187 37 193ZM32 189L37 193 33 192ZM59 187L58 191 55 190ZM71 189L72 194 69 191ZM77 185L75 190 72 194ZM107 185L111 188 106 194ZM126 188L132 188 131 193ZM149 187L152 188 152 193ZM158 188L157 190 152 193ZM182 186L187 190 184 193ZM-3 194L-1 195 -6 197ZM11 191L11 198 5 198ZM46 192L46 198 43 195ZM75 190L82 193 77 196ZM82 193L87 196 82 197ZM111 192L112 195 105 197ZM117 192L115 199 112 195ZM117 192L118 198 115 199ZM119 194L127 190 118 198ZM150 194L152 193 155 197ZM150 194L155 197 150 197ZM184 193L187 190 181 196ZM194 193L198 195 190 196Z"/><path fill="#c4d4dc" d="M1 -3L6 -3 -1 2ZM16 -4L13 -2 9 -1ZM29 -4L31 0 23 -2ZM93 -6L93 -0 89 2ZM114 -6L121 -5 117 1ZM39 1L39 4 35 5ZM46 2L51 -0 51 3ZM59 -2L57 5 51 3ZM59 -2L63 2 61 6ZM68 1L68 3 61 6ZM134 1L140 1 135 7ZM171 0L177 1 171 5ZM10 5L9 9 7 10ZM30 3L29 9 22 10ZM44 6L49 6 49 9ZM61 6L63 9 60 9ZM68 3L73 8 68 10ZM75 3L82 9 78 9ZM114 6L120 10 113 11ZM119 3L125 3 120 10ZM125 3L126 10 120 10ZM135 7L141 8 134 9ZM145 5L148 3 143 11ZM148 3L154 5 147 11ZM7 10L9 9 6 13ZM9 9L10 16 6 13ZM9 9L15 13 10 16ZM126 10L130 11 130 13ZM141 8L138 16 136 14ZM6 13L6 19 0 20ZM15 13L18 16 21 19ZM34 12L37 14 38 17ZM111 13L116 15 109 17ZM157 13L165 15 158 17ZM165 15L168 19 163 21ZM173 14L171 17 168 19ZM8 17L13 17 9 24ZM54 18L57 18 52 24ZM57 18L59 23 52 24ZM57 18L61 18 61 23ZM57 18L61 23 59 23ZM86 21L90 20 86 24ZM133 18L135 26 129 25ZM168 19L171 17 171 22ZM179 19L184 17 176 23ZM184 17L184 26 176 23ZM192 17L196 19 196 22ZM26 24L30 23 29 29ZM100 23L107 29 100 27ZM105 22L110 23 108 27ZM110 23L116 24 108 27ZM135 26L139 27 135 30ZM140 25L143 25 139 27ZM143 25L144 29 139 27ZM171 22L174 31 168 31ZM5 27L11 29 11 33ZM29 29L35 31 35 34ZM39 31L37 34 35 34ZM44 27L49 28 50 34ZM44 27L50 34 45 32ZM62 30L67 28 69 34ZM62 30L69 34 63 35ZM67 28L72 32 69 34ZM107 29L107 32 99 34ZM130 30L131 33 124 34ZM130 30L135 30 131 33ZM147 28L153 27 149 34ZM153 27L158 28 152 32ZM6 33L11 40 3 40ZM15 32L20 34 21 40ZM26 35L30 35 25 40ZM63 35L62 39 56 39ZM83 33L88 32 86 38ZM133 34L133 38 128 37ZM141 32L142 32 144 40ZM25 40L27 37 25 45ZM44 39L46 38 43 45ZM74 37L79 45 70 43ZM95 37L101 39 95 45ZM176 40L180 43 178 44ZM-5 44L-0 44 -1 48ZM10 41L12 44 14 47ZM19 45L25 45 24 49ZM19 45L24 49 21 46ZM103 41L104 43 103 47ZM104 43L109 44 104 46ZM144 45L147 49 146 46ZM-1 48L-1 51 -6 55ZM29 48L29 55 25 53ZM140 47L142 52 141 53ZM179 47L182 46 178 51ZM194 48L192 55 187 52ZM194 48L195 47 196 52ZM-6 55L-1 58 -5 59ZM4 51L9 53 7 57ZM45 53L44 58 37 57ZM69 52L73 53 65 57ZM83 52L85 53 85 57ZM142 52L146 57 140 55ZM142 52L150 58 146 57ZM-1 58L-1 64 -3 64ZM37 57L44 58 43 63ZM61 56L64 61 56 60ZM61 56L65 57 67 62ZM89 59L94 59 92 63ZM106 58L112 59 108 61ZM159 57L164 58 158 64ZM164 58L169 58 164 64ZM169 58L169 64 164 64ZM184 59L183 63 179 62ZM189 56L192 58 192 61ZM20 63L18 65 14 66ZM35 62L34 69 27 65ZM43 63L45 65 40 66ZM73 62L72 66 69 68ZM73 62L77 60 76 67ZM77 60L83 64 83 66ZM83 64L86 69 83 66ZM99 64L101 65 95 68ZM113 62L118 61 116 66ZM123 62L129 63 125 65ZM179 62L180 65 171 67ZM6 67L8 68 4 71ZM8 68L14 72 11 72ZM34 69L33 70 29 72ZM45 65L42 71 38 74ZM190 69L196 68 193 71ZM29 72L33 76 27 79ZM61 73L61 75 56 76ZM76 73L80 72 83 78ZM85 71L92 72 88 77ZM98 73L95 75 91 77ZM114 74L119 73 121 78ZM147 72L155 72 151 76ZM8 76L10 83 4 81ZM8 76L14 82 10 83ZM45 78L42 80 38 82ZM121 78L125 76 120 82ZM23 81L28 88 26 88ZM34 80L38 82 34 87ZM38 82L39 88 34 87ZM50 80L53 87 48 86ZM56 81L61 81 62 86ZM61 81L69 80 65 85ZM106 82L112 88 104 86ZM141 82L145 87 137 86ZM163 82L169 83 170 87ZM39 88L44 88 38 90ZM44 88L41 90 38 90ZM48 86L53 87 48 89ZM74 85L76 88 70 89ZM87 88L93 92 84 93ZM91 86L95 86 94 91ZM91 86L94 91 93 92ZM99 85L104 90 102 92ZM112 88L115 85 109 91ZM115 85L122 93 114 91ZM137 86L141 90 136 91ZM156 84L157 90 155 92ZM170 87L174 88 169 89ZM182 88L182 91 176 90ZM-5 91L-0 90 -7 98ZM9 92L15 96 10 96ZM34 91L37 97 33 96ZM48 89L50 98 43 95ZM62 90L66 96 62 95ZM69 91L70 89 66 96ZM128 93L130 98 124 96ZM141 90L146 90 144 97ZM151 93L154 97 148 98ZM157 90L164 93 157 97ZM164 93L162 97 157 97ZM164 93L169 89 162 97ZM186 91L194 92 190 94ZM198 93L197 96 190 94ZM6 97L10 96 9 100ZM6 97L9 100 5 100ZM10 96L15 96 16 101ZM50 98L51 96 49 102ZM51 96L56 102 54 100ZM66 96L72 96 70 101ZM97 97L99 96 95 101ZM118 97L123 99 121 100ZM169 95L172 95 169 101ZM172 95L175 100 169 101ZM172 95L180 97 178 101ZM188 95L190 94 187 99ZM24 102L31 106 23 107ZM123 99L129 102 129 104ZM141 100L143 102 138 104ZM143 102L145 105 138 104ZM51 105L59 110 53 109ZM57 106L64 111 59 110ZM68 105L72 106 67 108ZM107 106L111 111 106 112ZM124 107L127 113 120 112ZM163 105L164 109 157 109ZM195 105L197 109 192 112ZM-1 109L6 110 1 114ZM9 109L16 116 9 115ZM13 109L18 115 16 116ZM24 109L24 114 18 115ZM30 109L28 113 24 114ZM50 110L53 115 48 114ZM79 110L88 115 81 116ZM106 112L111 111 109 115ZM169 111L175 116 166 117ZM174 111L176 116 175 116ZM1 114L4 115 1 122ZM48 114L53 115 52 122ZM81 116L83 120 78 119ZM97 114L102 122 98 120ZM123 114L126 120 121 119ZM193 117L194 122 188 119ZM-6 122L2 124 -4 124ZM14 119L20 121 14 123ZM38 122L45 118 43 126ZM49 121L52 122 48 125ZM74 121L78 126 73 125ZM83 120L85 123 80 126ZM102 122L105 120 102 124ZM158 119L164 125 160 125ZM188 119L194 122 187 125ZM-4 124L1 131 -3 131ZM2 124L6 126 1 131ZM43 126L48 125 49 130ZM85 123L92 126 88 132ZM105 127L109 127 107 130ZM131 125L134 129 130 129ZM136 125L139 127 137 129ZM176 125L175 129 171 130ZM185 125L187 125 183 131ZM35 129L34 133 29 133ZM35 129L39 128 37 134ZM69 130L72 130 68 133ZM72 130L73 134 68 133ZM143 128L148 128 144 135ZM-3 134L1 136 -3 139ZM47 136L53 134 49 140ZM86 134L90 138 87 138ZM107 136L109 133 109 140ZM107 136L109 140 106 141ZM158 132L160 138 153 139ZM163 132L162 141 160 138ZM179 135L181 139 179 140ZM32 140L33 142 30 144ZM49 140L50 144 45 145ZM64 140L69 142 61 146ZM72 139L78 140 70 146ZM148 139L153 139 148 144ZM153 139L160 138 152 144ZM160 138L162 141 162 143ZM167 139L172 141 173 143ZM172 141L179 140 173 143ZM179 140L182 143 176 146ZM191 139L195 139 197 143ZM191 139L197 143 193 146ZM9 145L10 150 7 150ZM33 142L37 144 39 149ZM96 142L94 149 92 149ZM152 144L157 145 153 147ZM166 143L173 143 171 151ZM176 146L177 150 171 151ZM13 149L18 151 21 155ZM31 149L34 155 28 155ZM52 150L52 155 47 152ZM52 150L58 148 57 155ZM61 147L60 155 57 155ZM61 147L68 151 67 155ZM92 149L94 149 98 153ZM102 150L99 155 98 153ZM102 150L107 153 99 155ZM108 151L116 150 117 152ZM116 150L120 149 117 152ZM120 149L121 155 117 152ZM148 150L153 147 152 153ZM185 147L194 149 191 154ZM10 152L15 152 16 159ZM28 155L34 155 35 159ZM34 155L38 159 35 159ZM67 155L70 154 71 158ZM67 155L71 158 65 160ZM70 154L78 153 71 158ZM99 155L99 160 95 157ZM139 155L140 159 135 158ZM191 154L199 152 195 160ZM6 158L8 158 6 165ZM16 159L14 161 11 163ZM26 157L27 163 24 164ZM28 160L35 159 33 161ZM76 158L78 161 74 163ZM118 159L120 162 114 163ZM118 159L126 159 120 162ZM140 159L142 159 142 163ZM160 157L159 164 152 165ZM178 158L176 162 173 163ZM2 163L3 167 -0 168ZM6 165L11 163 3 167ZM21 161L20 168 16 167ZM83 165L88 163 82 168ZM93 165L94 161 97 166ZM93 165L97 166 89 169ZM111 163L114 169 110 166ZM128 164L135 165 133 166ZM142 163L147 164 150 168ZM159 164L160 167 154 167ZM176 162L183 163 182 170ZM9 169L16 167 12 172ZM16 167L19 172 16 173ZM24 167L28 170 28 171ZM55 167L59 167 59 175ZM72 170L72 172 69 172ZM75 167L82 168 84 172ZM97 166L94 174 92 172ZM102 166L107 173 100 173ZM154 167L160 167 155 174ZM178 168L182 170 183 172ZM190 168L198 167 199 173ZM-3 174L-2 172 -1 178ZM6 174L11 179 4 176ZM48 173L53 175 49 177ZM53 175L59 175 51 177ZM64 174L62 176 58 179ZM110 171L113 175 111 177ZM126 172L123 177 118 179ZM146 173L151 172 150 176ZM159 173L162 171 164 176ZM16 178L13 182 11 183ZM29 176L31 180 23 181ZM38 177L43 176 38 183ZM49 177L51 181 49 183ZM80 176L83 181 75 181ZM80 176L85 176 87 183ZM105 179L111 177 105 180ZM130 177L135 181 128 183ZM150 176L152 176 153 185ZM186 178L192 176 189 183ZM13 182L13 186 9 186ZM49 183L47 188 45 186ZM95 182L100 186 97 188ZM126 184L132 188 126 188ZM143 183L151 183 144 185ZM24 189L31 187 30 194ZM45 186L46 192 44 193ZM69 187L71 189 69 191ZM87 186L84 193 82 193ZM116 185L119 194 117 192ZM173 188L176 187 173 192ZM176 187L179 193 173 192ZM61 191L64 196 56 195ZM127 190L131 196 124 197ZM131 193L133 197 131 196ZM150 194L150 197 146 197ZM169 194L173 196 168 197ZM179 193L184 193 181 196ZM187 190L194 193 190 196ZM194 193L195 193 198 195Z"/><path fill="#a4dcea" d="M6 -3L5 -1 -1 2ZM6 -3L9 -1 5 -1ZM178 -4L182 1 177 1ZM190 -3L195 -5 198 1ZM-4 2L2 6 -5 6ZM9 -1L13 -2 10 5ZM63 2L68 1 61 6ZM145 1L148 1 148 3ZM160 1L162 2 160 7ZM30 3L35 5 35 11ZM49 6L51 3 52 8ZM61 6L68 3 63 9ZM72 4L78 9 73 8ZM103 4L112 10 105 11ZM114 6L113 11 112 10ZM114 6L119 3 120 10ZM135 7L134 9 130 11ZM141 4L145 5 141 8ZM154 5L154 9 147 11ZM160 7L164 4 165 8ZM171 5L178 3 173 9ZM29 9L35 11 28 13ZM36 10L37 14 34 12ZM36 10L42 11 41 12ZM36 10L41 12 37 14ZM73 8L78 9 75 15ZM157 11L165 15 157 13ZM6 13L8 17 6 19ZM28 13L34 19 29 21ZM75 15L82 20 76 21ZM111 13L109 17 104 17ZM118 15L119 18 115 21ZM147 13L156 15 152 20ZM173 14L176 14 171 17ZM193 15L196 19 192 17ZM21 19L26 24 18 24ZM82 20L80 22 75 22ZM109 17L115 21 116 24ZM140 21L140 25 135 26ZM152 20L158 17 157 25ZM163 21L169 24 162 22ZM179 19L176 23 171 22ZM184 17L186 17 184 26ZM192 17L192 23 188 23ZM32 24L35 31 29 29ZM122 25L126 28 122 28ZM157 25L162 22 163 30ZM5 27L6 33 0 35ZM16 30L15 32 11 33ZM71 28L77 28 72 32ZM135 30L133 34 131 33ZM153 27L152 32 149 34ZM163 30L164 35 159 34ZM-7 33L0 35 -2 39ZM0 35L6 33 -2 39ZM15 32L16 39 11 40ZM50 34L52 31 46 38ZM52 31L57 32 56 39ZM97 35L99 34 95 37ZM99 34L101 39 95 37ZM117 35L121 33 118 38ZM142 32L147 38 144 40ZM152 32L160 38 155 36ZM177 35L183 35 182 38ZM183 35L186 34 185 37ZM-2 39L-0 44 -5 44ZM-2 39L7 44 -0 44ZM53 38L56 39 52 42ZM67 40L74 37 70 43ZM78 39L81 37 80 41ZM95 37L95 45 92 42ZM101 39L103 41 95 45ZM107 39L104 43 103 41ZM147 38L155 36 148 43ZM155 36L153 43 148 43ZM168 38L172 43 166 44ZM182 38L185 43 180 43ZM10 41L14 47 12 50ZM88 45L90 47 86 49ZM115 44L113 46 111 48ZM127 44L128 42 126 46ZM128 42L130 46 126 46ZM172 43L178 44 174 46ZM6 50L4 51 -1 51ZM39 49L42 47 45 53ZM83 49L86 49 85 53ZM83 49L85 53 83 52ZM90 47L93 53 85 53ZM121 48L126 51 121 52ZM140 47L141 53 136 54ZM147 49L152 46 154 52ZM158 49L157 53 154 52ZM57 51L61 52 61 56ZM121 52L124 57 122 56ZM148 51L153 59 150 58ZM165 55L168 51 169 58ZM165 55L169 58 164 58ZM168 51L174 51 174 56ZM33 59L37 57 39 64ZM37 57L43 63 39 64ZM46 56L46 61 43 63ZM61 56L67 62 64 61ZM80 58L87 64 83 64ZM195 56L196 61 192 61ZM35 62L40 66 34 69ZM43 63L46 61 46 65ZM54 61L56 60 51 68ZM64 61L69 68 64 67ZM92 63L98 63 95 68ZM98 63L99 64 95 68ZM148 62L153 60 148 67ZM189 63L188 67 182 66ZM-4 68L-1 67 -2 71ZM-1 67L6 67 4 71ZM8 68L11 72 4 71ZM22 67L27 65 29 72ZM64 67L61 73 59 70ZM89 67L92 72 85 71ZM107 67L110 69 110 73ZM171 67L178 71 171 73ZM182 66L182 72 178 71ZM38 74L37 75 33 76ZM48 72L51 72 50 78ZM51 72L59 70 56 76ZM69 70L70 73 68 77ZM101 74L104 75 100 77ZM127 74L125 76 121 78ZM127 74L129 74 129 76ZM155 72L157 73 151 76ZM8 76L17 78 14 82ZM18 77L20 82 14 82ZM56 76L61 75 56 81ZM70 76L78 78 71 82ZM83 78L88 77 88 81ZM117 77L116 80 112 84ZM125 76L124 82 120 82ZM193 78L195 75 197 82ZM-2 83L-2 86 -4 88ZM23 81L29 82 28 88ZM80 81L88 81 80 87ZM112 84L116 80 112 88ZM-4 88L-0 90 -5 91ZM19 88L17 90 13 91ZM34 87L39 88 38 90ZM74 85L70 89 69 91ZM174 88L172 91 169 89ZM194 87L196 85 194 92ZM7 91L9 92 6 97ZM9 92L13 91 15 96ZM29 92L34 91 33 96ZM62 90L62 95 56 97ZM84 93L92 96 88 98ZM94 91L97 97 92 96ZM128 93L136 91 130 98ZM182 91L182 96 180 97ZM43 95L50 98 43 99ZM51 96L56 97 56 102ZM66 96L68 100 61 102ZM66 96L70 101 68 100ZM104 94L111 95 111 101ZM130 98L129 102 123 99ZM157 97L162 97 159 102ZM182 96L187 99 185 100ZM-3 101L2 103 -0 107ZM5 100L9 100 4 104ZM43 99L49 102 49 104ZM56 102L61 102 57 106ZM70 101L78 101 72 106ZM95 101L97 103 90 107ZM115 100L121 100 116 107ZM123 99L129 104 124 107ZM159 102L157 104 153 106ZM-0 107L4 104 6 110ZM21 106L23 107 24 109ZM49 104L50 110 45 110ZM82 106L88 104 79 110ZM88 104L90 107 88 112ZM110 104L116 107 114 111ZM129 104L133 110 132 108ZM138 104L141 111 133 110ZM157 104L157 109 152 111ZM187 107L187 112 182 110ZM64 111L67 108 66 114ZM64 111L66 114 64 116ZM141 111L141 114 133 116ZM174 111L179 109 176 116ZM192 112L193 117 188 115ZM9 115L14 119 10 120ZM64 116L67 120 63 119ZM73 115L76 115 78 119ZM109 115L115 122 111 119ZM155 116L157 115 158 119ZM38 122L43 126 37 123ZM63 119L65 124 64 126ZM102 122L102 124 95 124ZM111 119L115 122 117 127ZM139 121L143 119 139 127ZM148 118L150 125 142 124ZM165 122L167 119 167 124ZM6 126L3 130 1 131ZM28 125L27 130 24 128ZM35 123L39 128 35 129ZM48 125L53 124 53 127ZM57 123L64 126 57 129ZM78 126L78 130 72 130ZM95 124L97 129 90 131ZM131 125L136 125 134 129ZM155 127L152 132 148 128ZM1 131L3 130 1 136ZM3 130L5 133 1 136ZM9 128L16 128 14 135ZM16 128L21 135 14 135ZM39 128L44 131 43 132ZM49 130L47 136 43 132ZM61 128L69 130 62 134ZM72 130L78 134 73 134ZM90 131L97 129 96 136ZM111 128L117 132 114 136ZM134 129L137 129 137 135ZM171 130L175 129 174 136ZM10 134L9 138 5 140ZM29 133L32 140 29 139ZM68 133L69 141 64 140ZM73 134L78 134 78 140ZM78 134L82 133 81 138ZM82 133L87 138 81 138ZM144 135L148 139 143 137ZM188 133L188 139 181 139ZM-3 139L1 141 -0 143ZM1 141L5 140 -0 143ZM24 137L29 139 22 143ZM32 140L39 141 37 144ZM90 138L92 142 84 144ZM97 140L96 142 92 142ZM160 138L162 143 157 145ZM181 139L188 139 182 143ZM188 139L193 146 187 145ZM20 145L18 151 13 149ZM37 144L45 145 39 149ZM75 143L80 143 77 150ZM162 143L161 147 160 147ZM1 150L-1 153 -4 153ZM1 150L7 150 -1 153ZM39 149L38 153 34 155ZM47 149L47 152 44 152ZM161 147L167 147 164 155ZM167 147L171 151 170 153ZM181 147L185 147 188 155ZM-4 153L-1 153 0 158ZM38 153L44 159 38 159ZM146 154L151 158 142 159ZM147 154L154 158 151 158ZM0 158L2 163 -3 164ZM6 158L6 165 2 163ZM44 159L50 165 44 164ZM95 157L99 160 102 165ZM126 159L127 164 120 162ZM135 158L141 165 135 165ZM142 159L151 158 142 163ZM21 161L24 164 20 168ZM24 164L28 170 24 167ZM38 163L44 164 43 169ZM44 164L48 168 43 169ZM61 162L61 167 59 167ZM61 162L67 169 61 167ZM114 163L120 162 120 169ZM152 165L159 164 154 167ZM159 164L165 165 165 169ZM173 163L176 162 178 168ZM173 163L178 168 175 169ZM176 162L182 170 178 168ZM-6 168L-0 168 -3 174ZM110 166L117 173 110 171ZM120 169L126 172 121 172ZM150 168L155 174 151 172ZM165 169L166 174 162 171ZM178 168L183 172 177 174ZM190 168L194 171 188 172ZM64 174L68 178 62 176ZM126 172L128 172 123 177ZM166 174L172 173 166 177ZM177 174L183 172 179 179ZM-1 178L4 176 3 182ZM111 177L111 181 105 180ZM164 176L166 177 166 183ZM1 181L3 182 2 188ZM38 183L43 181 37 187ZM51 181L56 182 51 189ZM89 181L95 182 97 188ZM95 182L102 184 100 186ZM151 183L153 185 152 188ZM163 182L164 188 158 188ZM189 183L192 184 192 188ZM2 188L6 187 3 193ZM18 189L24 189 24 191ZM45 186L47 188 46 192ZM64 186L61 191 58 191ZM100 186L106 194 100 194ZM158 188L164 188 157 190ZM164 188L169 185 169 194ZM169 185L173 192 169 194ZM185 186L192 188 194 193ZM185 186L194 193 187 190ZM11 191L15 190 11 198ZM24 191L30 194 27 199ZM37 193L44 193 43 195ZM37 193L43 195 40 196ZM84 193L92 192 91 199ZM131 193L133 191 133 197ZM152 193L159 198 155 197ZM179 193L176 199 173 196Z"/><path fill="#58b8cc" d="M49 -6L53 -6 51 -0ZM55 -3L61 -6 63 2ZM5 -1L10 5 7 7ZM59 -2L61 6 57 5ZM68 1L70 -0 72 4ZM75 1L81 3 75 3ZM123 -1L125 3 119 3ZM123 -1L130 4 125 3ZM148 1L153 -0 148 3ZM188 1L191 1 191 4ZM13 6L18 10 16 10ZM57 5L61 6 60 9ZM68 3L72 4 73 8ZM148 3L147 11 143 11ZM18 10L22 15 18 16ZM42 11L49 9 41 12ZM86 10L91 9 87 15ZM99 9L105 11 104 14ZM112 10L113 11 116 15ZM113 11L120 10 116 15ZM154 9L157 11 156 15ZM168 10L173 14 169 13ZM193 10L195 11 193 15ZM82 16L86 21 82 20ZM123 13L130 13 131 20ZM142 15L147 13 145 19ZM165 15L169 13 168 19ZM-3 19L0 20 -6 22ZM34 19L38 17 32 24ZM38 17L38 24 32 24ZM76 21L75 22 73 23ZM76 21L82 20 75 22ZM104 17L109 17 110 23ZM158 17L163 21 162 22ZM9 24L16 30 11 29ZM18 24L18 28 16 30ZM18 24L26 24 18 28ZM38 24L43 25 44 27ZM49 26L49 28 44 27ZM73 23L71 28 67 28ZM105 22L108 27 107 29ZM157 25L163 30 158 28ZM11 29L16 30 11 33ZM62 30L63 35 57 32ZM108 27L117 35 109 34ZM139 27L144 29 142 32ZM158 28L159 34 152 32ZM158 28L163 30 159 34ZM178 30L183 30 183 35ZM69 34L67 40 62 39ZM99 34L107 32 107 39ZM121 33L124 34 118 38ZM164 35L168 38 161 37ZM174 36L177 35 176 40ZM11 40L16 39 10 41ZM67 40L66 43 63 42ZM133 38L141 39 135 43ZM141 39L144 40 144 45ZM176 40L178 44 172 43ZM25 45L28 45 29 48ZM43 45L50 42 48 48ZM63 42L66 43 62 46ZM104 43L104 46 103 47ZM118 43L127 44 126 46ZM163 44L166 49 165 49ZM166 44L172 43 166 49ZM172 43L174 46 166 49ZM180 43L185 43 182 46ZM196 43L195 47 194 48ZM39 49L45 53 38 53ZM52 48L57 51 54 54ZM56 46L61 52 57 51ZM104 46L107 52 100 53ZM104 46L111 48 107 52ZM146 46L147 49 142 52ZM174 46L174 51 168 51ZM182 46L185 53 178 51ZM9 53L15 51 11 58ZM18 53L21 57 13 56ZM25 53L24 59 21 57ZM45 53L49 52 46 56ZM73 53L73 59 65 57ZM79 51L83 52 75 58ZM121 52L126 51 124 57ZM136 54L141 53 140 55ZM24 59L25 62 20 63ZM150 58L148 62 145 61ZM-1 64L-1 67 -4 68ZM-1 64L6 67 -1 67ZM20 63L25 62 18 65ZM43 63L46 65 45 65ZM56 60L59 67 51 68ZM141 64L145 61 144 66ZM22 67L29 72 24 73ZM46 65L51 72 48 72ZM89 67L95 68 98 73ZM89 67L98 73 92 72ZM180 65L182 66 178 71ZM24 73L22 75 18 77ZM167 78L172 79 169 83ZM4 81L12 88 5 87ZM154 80L156 84 150 86ZM154 80L160 86 156 84ZM173 83L177 82 175 86ZM173 83L175 86 174 88ZM175 86L182 88 176 90ZM54 90L56 97 51 96ZM102 92L104 94 99 96ZM109 91L111 95 104 94ZM109 91L114 91 114 94ZM122 93L125 92 118 97ZM136 91L141 90 135 95ZM172 91L180 97 172 95ZM-7 98L-2 95 2 103ZM-2 95L6 97 5 100ZM-2 95L5 100 2 103ZM10 96L16 101 9 100ZM56 97L62 95 56 102ZM62 95L66 96 61 102ZM130 98L135 101 129 102ZM68 100L70 101 68 105ZM70 101L72 106 68 105ZM121 100L120 105 116 107ZM129 102L137 108 129 104ZM150 100L153 106 149 106ZM9 108L9 109 6 110ZM149 106L153 106 152 111ZM177 104L179 109 174 111ZM187 107L194 106 187 112ZM9 109L9 115 4 115ZM50 110L48 114 43 115ZM53 109L56 115 53 115ZM106 112L104 116 100 117ZM111 111L114 111 109 115ZM114 111L115 114 109 115ZM-6 116L1 122 -6 122ZM40 116L45 118 38 122ZM73 115L78 119 74 121ZM104 116L111 119 105 120ZM131 115L133 116 134 121ZM131 115L134 121 129 121ZM151 116L155 122 148 118ZM1 122L6 126 2 124ZM33 119L35 123 28 125ZM45 118L48 125 43 126ZM63 119L67 120 65 124ZM85 121L92 119 92 126ZM129 121L136 125 131 125ZM165 122L167 124 164 125ZM194 122L198 119 197 127ZM194 122L197 127 193 125ZM19 127L22 124 24 128ZM35 123L37 123 39 128ZM92 126L95 124 90 131ZM102 124L102 129 97 129ZM142 124L150 125 148 128ZM53 127L57 129 57 135ZM53 127L57 135 53 134ZM78 130L81 129 78 134ZM111 128L114 136 109 133ZM121 129L126 128 119 134ZM126 128L130 129 123 136ZM148 128L152 132 155 136ZM175 129L179 135 174 136ZM175 129L182 135 179 135ZM186 129L188 133 182 135ZM21 135L24 136 17 137ZM34 133L39 141 32 140ZM86 134L89 133 90 138ZM102 136L103 140 97 140ZM174 136L172 141 167 139ZM49 140L52 138 51 143ZM81 138L80 143 75 143ZM81 138L84 144 80 143ZM106 141L107 144 102 146ZM109 140L113 145 109 145ZM51 143L57 142 58 148ZM51 143L58 148 52 150ZM80 143L84 144 81 148ZM102 146L105 151 102 150ZM119 146L126 148 120 149ZM124 145L130 143 126 148ZM134 144L138 144 136 148ZM136 148L137 155 129 156ZM181 147L188 155 184 154ZM21 155L24 153 26 157ZM89 153L95 157 90 157ZM188 155L189 160 183 156ZM44 159L49 159 50 165ZM49 159L52 164 50 165ZM53 157L59 157 52 164ZM135 158L135 165 128 164ZM161 158L168 159 169 164ZM189 160L192 164 187 165ZM-3 164L2 163 -6 168ZM14 161L21 161 16 167ZM94 161L102 166 97 166ZM127 164L128 164 129 166ZM165 165L169 164 165 169ZM9 169L12 172 6 174ZM16 167L16 173 12 172ZM59 167L64 174 59 175ZM61 167L69 172 64 174ZM150 168L151 172 146 173ZM16 173L19 172 16 178ZM22 171L28 171 29 176ZM59 175L58 179 51 177ZM72 172L79 172 72 180ZM86 174L92 172 90 176ZM107 173L110 171 105 179ZM110 171L117 173 113 175ZM172 173L179 179 173 179ZM16 178L18 183 13 182ZM20 176L26 177 18 183ZM29 176L33 178 32 182ZM49 177L51 177 51 181ZM90 176L95 182 89 181ZM-4 181L1 181 -3 186ZM56 182L59 187 51 189ZM63 183L66 184 69 187ZM74 182L71 189 69 187ZM189 183L192 188 185 186ZM32 189L33 192 30 194ZM59 187L64 186 58 191ZM82 185L87 186 82 193ZM100 186L107 185 106 194ZM111 188L116 185 111 192ZM126 188L131 193 127 190ZM182 186L185 186 187 190ZM-3 194L0 193 -1 195ZM72 194L77 196 71 195Z"/><path fill="#3a8890" d="M44 -6L46 2 43 -0ZM162 -4L169 0 162 2ZM181 -4L188 -3 188 1ZM43 -0L44 6 39 4ZM89 2L93 -0 85 3ZM140 1L141 4 135 7ZM162 2L169 0 164 4ZM177 1L183 6 178 3ZM182 1L188 1 183 6ZM72 4L75 3 78 9ZM135 7L141 4 141 8ZM191 4L199 4 195 11ZM191 4L195 11 193 10ZM68 10L73 8 69 14ZM91 9L95 15 90 15ZM120 10L126 10 123 13ZM184 8L186 11 187 13ZM48 15L54 13 47 19ZM95 15L101 13 102 18ZM138 16L145 19 140 21ZM187 13L192 17 186 17ZM38 17L43 25 38 24ZM109 17L116 24 110 23ZM133 18L140 21 135 26ZM151 17L152 23 148 22ZM192 17L196 22 192 23ZM3 24L9 24 5 27ZM9 24L13 23 16 30ZM26 24L26 29 18 28ZM75 22L77 28 71 28ZM86 24L90 22 93 30ZM126 24L129 25 130 30ZM171 22L176 23 178 30ZM18 28L20 34 15 32ZM18 28L26 35 20 34ZM44 27L45 32 37 34ZM83 28L88 32 83 33ZM93 30L97 35 90 33ZM108 27L109 34 107 32ZM163 30L166 34 164 35ZM52 31L56 39 53 38ZM90 33L92 40 86 38ZM141 32L141 39 133 38ZM149 34L152 32 155 36ZM193 33L197 36 194 39ZM44 39L43 45 37 44ZM173 36L176 40 172 43ZM185 37L194 39 185 43ZM194 39L191 41 185 43ZM35 45L39 49 35 47ZM79 45L80 41 78 47ZM95 45L103 41 103 47ZM178 44L179 47 174 46ZM12 50L9 53 4 51ZM14 47L21 46 15 51ZM29 48L35 47 32 52ZM29 48L32 52 29 55ZM62 46L69 52 61 52ZM166 49L174 46 168 51ZM54 54L57 51 56 60ZM57 51L61 56 56 60ZM73 53L79 51 75 58ZM83 52L85 57 80 58ZM100 53L100 58 94 59ZM100 53L107 52 100 58ZM110 52L113 51 112 59ZM174 51L178 51 178 55ZM187 52L192 58 189 56ZM-5 59L-1 58 -3 64ZM122 56L124 57 123 62ZM184 59L189 56 189 63ZM10 61L13 60 14 66ZM92 63L95 68 89 67ZM99 64L108 61 101 65ZM109 62L116 66 110 69ZM129 63L134 61 135 65ZM129 63L135 65 130 69ZM179 62L183 63 180 65ZM27 65L34 69 29 72ZM72 66L76 67 70 73ZM144 66L144 71 140 73ZM188 67L190 69 193 71ZM188 67L193 71 187 74ZM-5 74L-2 77 -6 79ZM4 71L8 76 4 77ZM21 72L24 73 18 77ZM76 73L83 78 78 78ZM98 73L100 77 95 75ZM110 73L117 77 109 76ZM119 73L127 74 121 78ZM137 70L140 73 135 78ZM171 73L178 71 176 77ZM182 72L187 74 183 78ZM-6 79L-2 77 -5 82ZM33 76L37 75 34 80ZM68 77L70 76 69 80ZM70 76L71 82 69 80ZM78 78L77 80 71 82ZM83 78L80 81 77 80ZM187 78L190 83 188 84ZM-2 83L4 81 5 87ZM61 81L65 85 62 86ZM124 82L130 85 125 85ZM141 82L137 86 133 88ZM177 82L185 81 175 86ZM28 88L29 92 26 92ZM28 88L34 87 34 91ZM53 87L56 90 54 90ZM161 85L170 87 164 93ZM13 91L17 90 18 95ZM48 89L54 90 50 98ZM54 90L51 96 50 98ZM141 90L144 97 141 95ZM169 89L169 95 162 97ZM22 94L31 98 24 102ZM99 96L101 103 95 101ZM29 101L32 106 31 106ZM43 99L42 104 40 106ZM61 102L68 100 68 105ZM87 101L90 107 88 104ZM169 101L170 104 163 105ZM185 100L187 107 182 108ZM187 99L193 99 187 107ZM31 106L35 112 30 109ZM88 104L88 112 79 110ZM149 106L152 111 148 109ZM157 104L163 105 157 109ZM-6 109L-1 109 1 114ZM59 110L64 111 56 115ZM79 110L88 112 88 115ZM133 110L133 116 131 115ZM179 109L185 116 176 116ZM192 112L197 113 193 117ZM-6 116L1 114 1 122ZM28 113L34 117 33 119ZM73 115L74 121 67 120ZM119 117L121 119 115 122ZM133 116L141 114 139 121ZM141 114L145 115 143 119ZM157 115L164 114 165 122ZM175 116L173 118 167 119ZM20 121L19 127 14 123ZM134 121L139 121 139 127ZM143 119L148 118 142 124ZM6 126L9 128 3 130ZM92 126L90 131 88 132ZM125 123L131 125 130 129ZM139 127L143 128 137 129ZM175 125L176 125 171 130ZM187 125L186 129 183 131ZM24 128L29 133 24 136ZM49 130L53 127 53 134ZM57 129L61 128 62 134ZM102 129L107 130 107 136ZM156 131L163 128 163 132ZM156 131L163 132 158 132ZM186 129L194 129 188 133ZM1 136L5 133 5 140ZM62 134L68 133 64 140ZM149 136L155 136 153 139ZM179 135L182 135 181 139ZM9 138L16 141 14 142ZM90 138L97 140 92 142ZM136 137L134 144 130 143ZM92 142L96 142 92 149ZM144 145L143 150 139 149ZM58 148L61 147 57 155ZM68 151L73 150 67 155ZM177 150L177 155 175 153ZM-1 153L6 158 0 158ZM126 154L129 156 128 157ZM159 154L164 155 160 157ZM154 158L160 157 152 165ZM33 161L35 166 28 170ZM68 162L74 163 72 170ZM74 163L78 161 72 170ZM78 161L82 168 75 167ZM128 164L133 166 129 166ZM72 170L75 167 79 172ZM89 169L97 166 92 172ZM114 169L121 172 117 173ZM133 166L138 166 136 174ZM160 167L159 173 155 174ZM53 175L51 177 49 177ZM94 174L100 173 98 178ZM100 173L107 173 105 179ZM121 172L126 172 118 179ZM159 173L157 177 152 176ZM183 172L186 178 181 179ZM58 179L62 176 56 182ZM72 180L74 182 66 184ZM113 175L119 182 114 184ZM179 179L178 184 174 182ZM179 179L181 179 178 184ZM3 182L6 187 2 188ZM18 183L24 189 18 189ZM23 181L31 180 24 189ZM43 181L45 186 37 187ZM56 182L63 183 59 187ZM63 183L69 187 64 186ZM75 181L83 181 82 185ZM87 183L91 187 87 186ZM114 184L119 182 116 185ZM126 184L128 183 132 188ZM128 183L134 189 132 188ZM135 181L138 186 134 189ZM166 183L169 185 164 188ZM174 182L173 188 169 185ZM64 186L69 187 61 191ZM91 187L97 188 92 192ZM111 188L111 192 106 194ZM116 185L118 188 119 194ZM164 188L165 190 157 190ZM164 188L169 194 165 190ZM192 188L199 189 195 193ZM3 193L5 198 -1 195ZM44 193L46 192 43 195ZM92 192L95 194 95 196ZM95 194L100 194 101 197ZM133 191L141 197 133 197ZM157 190L165 190 159 198Z"/><path fill="#3a70b0" d="M55 -3L59 -2 51 -0ZM55 -3L63 2 59 -2ZM61 -6L68 1 63 2ZM121 -5L120 -1 117 1ZM130 -7L131 2 123 -1ZM140 -3L140 1 134 1ZM142 -4L148 -4 145 1ZM151 -7L157 -3 153 -0ZM157 -3L162 -4 160 1ZM162 -4L170 -3 169 0ZM43 -0L46 2 49 6ZM70 -0L75 3 72 4ZM105 -2L110 2 103 4ZM110 2L109 4 103 4ZM110 2L117 1 114 6ZM131 2L134 1 135 7ZM169 0L171 5 170 3ZM-5 6L0 9 -3 11ZM85 3L86 10 82 9ZM9 9L16 10 15 13ZM18 10L22 10 22 15ZM35 11L34 12 28 13ZM143 11L147 11 147 13ZM184 8L187 13 183 14ZM10 16L15 13 8 17ZM63 14L66 19 61 18ZM75 15L76 21 70 21ZM87 15L90 15 86 21ZM101 13L104 14 104 17ZM169 13L173 14 168 19ZM70 21L73 23 65 25ZM104 17L110 23 105 22ZM115 21L119 18 116 24ZM119 18L126 24 122 25ZM125 18L131 20 129 25ZM125 18L129 25 126 24ZM131 20L133 18 129 25ZM59 23L61 23 62 30ZM61 23L67 28 62 30ZM86 24L86 28 83 28ZM126 24L130 30 126 28ZM129 25L135 26 135 30ZM184 26L188 23 183 30ZM49 28L52 31 50 34ZM56 29L62 30 57 32ZM126 28L130 30 124 34ZM63 35L69 34 62 39ZM78 34L78 39 74 37ZM117 35L118 38 117 38ZM124 34L124 39 118 38ZM131 33L133 34 128 37ZM183 35L185 37 182 38ZM186 34L193 33 194 39ZM38 38L37 44 35 45ZM141 39L139 43 135 43ZM147 38L148 43 144 45ZM57 42L63 42 56 46ZM12 50L14 47 9 53ZM21 46L18 53 15 51ZM165 49L165 55 157 53ZM192 55L195 56 192 58ZM65 57L73 59 67 62ZM100 58L108 61 99 64ZM140 55L145 61 141 64ZM146 57L150 58 145 61ZM169 58L174 64 169 64ZM10 61L14 66 8 68ZM25 62L29 62 27 65ZM46 61L54 61 51 68ZM64 61L67 62 69 68ZM141 64L144 66 139 67ZM145 61L148 62 148 67ZM164 64L170 66 161 66ZM169 64L171 67 170 66ZM192 61L196 68 190 69ZM22 67L24 73 21 72ZM69 68L70 73 69 70ZM86 69L89 67 85 71ZM139 67L140 73 137 70ZM144 66L148 67 147 72ZM157 66L163 72 157 73ZM182 66L188 67 182 72ZM42 71L48 72 45 78ZM51 72L54 76 50 78ZM147 72L151 76 149 76ZM157 73L164 77 157 76ZM182 72L183 78 176 77ZM61 75L68 77 69 80ZM129 76L135 82 129 82ZM176 77L177 82 173 83ZM50 80L53 81 53 87ZM77 80L80 81 80 87ZM116 80L119 87 115 85ZM148 82L150 86 145 87ZM12 88L9 92 7 91ZM76 88L80 87 78 92ZM189 85L186 91 182 91ZM26 92L29 92 31 98ZM54 90L56 90 56 97ZM109 91L114 94 111 95ZM155 92L157 97 154 97ZM186 91L190 94 188 95ZM15 96L18 95 18 103ZM130 98L135 95 135 101ZM-3 101L-0 107 -6 108ZM18 103L21 106 13 107ZM24 102L29 101 31 106ZM34 99L37 102 32 106ZM49 102L51 105 49 104ZM54 100L57 106 51 105ZM78 101L82 106 78 106ZM101 103L106 101 103 106ZM159 102L165 99 157 104ZM169 101L175 100 175 105ZM185 100L187 99 187 107ZM32 106L40 106 35 112ZM42 104L49 104 45 110ZM57 106L61 106 64 111ZM61 106L68 105 64 111ZM90 107L97 103 92 111ZM103 106L106 112 102 110ZM116 107L120 112 114 111ZM145 105L143 109 141 111ZM71 110L76 115 73 115ZM106 112L109 115 104 116ZM169 111L174 111 175 116ZM185 116L188 115 188 119ZM185 116L188 119 181 118ZM197 113L198 119 194 122ZM10 120L14 119 14 123ZM111 119L117 127 109 127ZM129 121L134 121 136 125ZM155 122L158 119 155 127ZM181 118L185 125 176 125ZM64 126L69 130 61 128ZM65 124L73 125 72 130ZM95 124L102 124 97 129ZM109 127L111 128 107 130ZM125 123L130 129 126 128ZM150 125L155 127 148 128ZM1 131L1 136 -3 134ZM27 130L35 129 29 133ZM35 129L37 134 34 133ZM130 129L134 129 128 133ZM1 136L5 140 1 141ZM29 133L29 139 24 137ZM78 134L81 138 78 140ZM107 136L106 141 103 140ZM114 136L117 138 109 140ZM114 136L119 134 117 138ZM144 135L149 136 148 139ZM9 138L9 145 6 144ZM24 137L22 143 20 145ZM57 139L64 140 61 146ZM69 141L70 146 69 142ZM81 138L87 138 84 144ZM106 141L109 140 107 144ZM179 140L176 146 173 143ZM50 144L47 149 45 148ZM61 146L61 147 58 148ZM61 146L69 142 61 147ZM70 146L77 150 73 150ZM107 144L109 145 105 151ZM10 150L10 152 6 153ZM10 150L13 149 15 152ZM108 151L111 155 107 153ZM15 152L21 155 19 156ZM111 155L117 152 114 160ZM129 156L137 155 135 158ZM139 155L146 154 142 159ZM108 156L112 159 104 165ZM160 157L161 158 159 164ZM178 158L183 156 183 163ZM192 164L198 165 198 167ZM35 166L32 172 28 171ZM43 169L48 173 42 175ZM82 168L87 168 86 174ZM123 169L128 172 126 172ZM37 172L38 177 33 178ZM84 172L80 176 76 178ZM128 172L130 177 123 177ZM136 174L139 173 141 179ZM194 171L199 173 197 177ZM26 177L29 176 23 181ZM33 178L38 183 32 182ZM72 180L76 178 75 181ZM85 176L89 181 87 183ZM134 179L141 179 135 181ZM141 179L137 182 135 181ZM105 180L111 181 111 188ZM137 182L143 183 144 185ZM153 185L158 188 152 188ZM6 187L11 191 3 193ZM24 189L30 194 24 191ZM37 187L45 186 37 193ZM69 187L69 191 61 191ZM77 185L82 185 82 193ZM134 189L137 193 133 191ZM138 186L142 193 137 193ZM15 190L18 198 16 198ZM61 191L69 191 64 196ZM72 194L75 190 77 196ZM137 193L146 197 141 197ZM142 193L150 194 146 197ZM179 193L181 196 176 199Z"/><path fill="#5a9060" d="M95 -6L99 -7 96 1ZM130 -7L136 -7 134 1ZM136 -7L140 -3 134 1ZM142 -4L145 1 140 1ZM13 -2L13 6 10 5ZM68 1L72 4 68 3ZM75 1L81 -0 81 3ZM131 2L135 7 130 4ZM169 0L171 0 171 5ZM35 5L39 4 35 11ZM49 9L54 13 48 15ZM99 9L104 14 101 13ZM28 13L34 12 34 19ZM54 13L54 18 47 19ZM57 14L63 14 57 18ZM63 14L61 18 57 18ZM136 14L140 21 133 18ZM138 16L142 15 145 19ZM0 20L6 19 3 24ZM25 17L29 21 30 23ZM29 21L34 19 32 24ZM29 21L32 24 30 23ZM61 18L65 25 61 23ZM119 18L122 25 116 24ZM30 23L32 24 29 29ZM73 23L75 22 71 28ZM116 24L122 25 113 30ZM122 25L126 24 126 28ZM152 23L158 28 153 27ZM1 27L5 27 0 35ZM67 28L71 28 72 32ZM135 30L141 32 133 34ZM57 32L63 35 56 39ZM99 34L107 39 101 39ZM164 35L161 37 160 38ZM-6 37L-2 39 -5 44ZM11 40L10 41 7 44ZM16 39L21 40 19 45ZM21 40L25 40 19 45ZM46 38L52 42 50 42ZM86 38L92 42 88 45ZM118 38L127 44 118 43ZM12 44L19 45 14 47ZM128 42L135 48 130 46ZM144 45L146 46 140 47ZM191 41L196 43 194 48ZM-4 50L-1 48 -6 55ZM-1 48L6 50 -1 51ZM86 49L90 47 85 53ZM98 48L103 47 94 55ZM103 47L100 53 94 55ZM103 47L104 46 100 53ZM113 46L121 52 113 51ZM15 51L13 56 11 58ZM113 51L121 52 122 56ZM148 51L154 52 153 59ZM21 57L24 59 20 63ZM33 59L39 64 35 62ZM54 59L56 60 54 61ZM150 58L153 59 148 62ZM178 55L179 62 174 64ZM-1 64L5 62 6 67ZM153 60L152 68 148 67ZM153 60L158 64 157 66ZM59 67L64 67 59 70ZM116 66L119 73 114 74ZM139 67L144 66 140 73ZM92 72L91 77 88 77ZM4 77L8 76 4 81ZM91 77L90 82 88 81ZM117 77L121 78 116 80ZM172 79L176 77 173 83ZM183 78L188 84 185 81ZM96 80L102 83 99 85ZM26 88L28 88 26 92ZM125 85L130 85 125 92ZM130 85L128 93 125 92ZM17 90L22 94 18 95ZM70 89L78 92 72 96ZM125 92L128 93 124 96ZM18 95L22 94 18 103ZM50 98L49 102 43 99ZM104 94L106 101 101 103ZM118 97L121 100 115 100ZM182 96L185 100 178 101ZM2 103L5 100 4 104ZM92 100L95 101 90 107ZM106 101L110 104 107 106ZM165 99L163 105 157 104ZM97 103L103 106 96 113ZM124 107L132 108 127 113ZM129 104L137 108 133 110ZM149 106L148 109 143 109ZM177 104L182 108 182 110ZM182 108L187 107 182 110ZM9 109L13 109 16 116ZM96 113L97 114 91 115ZM96 113L102 110 97 114ZM64 116L66 114 67 120ZM81 116L88 115 85 121ZM133 116L139 121 134 121ZM176 116L176 120 173 118ZM176 116L185 116 176 120ZM193 117L197 113 194 122ZM25 120L22 124 19 127ZM148 118L155 127 150 125ZM158 119L165 122 164 125ZM14 123L16 128 9 128ZM28 125L35 123 27 130ZM85 123L88 132 81 129ZM3 130L10 134 5 133ZM21 131L24 128 21 135ZM57 129L62 134 57 135ZM126 128L123 136 119 134ZM5 133L10 134 5 140ZM57 135L62 134 64 140ZM119 134L123 136 118 138ZM194 134L195 139 191 139ZM42 139L45 145 37 144ZM167 139L166 143 162 143ZM167 139L173 143 166 143ZM70 146L75 143 77 150ZM109 145L113 145 108 151ZM144 145L148 144 143 150ZM157 145L160 147 153 147ZM39 149L45 148 44 152ZM61 147L67 155 60 155ZM88 148L89 153 88 155ZM171 151L175 153 170 153ZM6 153L8 158 6 158ZM24 153L28 155 28 160ZM88 155L89 153 90 157ZM107 153L108 156 99 160ZM164 155L170 153 168 159ZM170 153L175 153 172 160ZM61 159L65 160 68 162ZM11 163L16 167 9 169ZM106 169L110 171 107 173ZM129 166L136 174 128 172ZM160 167L165 169 162 171ZM-2 172L6 174 4 176ZM19 172L22 171 26 177ZM28 171L32 172 33 178ZM100 173L105 179 101 178ZM117 173L121 172 118 179ZM98 178L102 184 95 182ZM144 180L143 183 137 182ZM144 180L150 176 151 183ZM150 176L153 185 151 183ZM1 181L2 188 -3 186ZM87 183L89 181 91 187ZM105 180L107 185 100 186ZM119 182L126 188 118 188ZM137 182L144 185 138 186ZM6 187L9 186 11 191ZM9 186L15 190 11 191ZM13 186L21 192 15 190ZM87 186L92 192 84 193ZM118 188L127 190 119 194ZM144 185L150 194 142 193ZM149 187L152 193 150 194ZM46 192L55 190 53 196ZM58 191L61 191 56 195ZM84 193L91 199 87 196ZM100 194L106 194 101 197ZM106 194L111 192 105 197Z"/><path fill="#a8a478" d="M99 -7L105 -2 101 -1ZM105 -4L108 -4 105 -2ZM121 -5L124 -5 123 -1ZM130 -7L134 1 131 2ZM190 -3L198 1 191 1ZM5 -1L9 -1 10 5ZM31 0L33 -1 35 5ZM93 -0L96 1 91 4ZM105 -2L103 4 100 7ZM117 1L120 -1 114 6ZM153 -0L160 1 154 5ZM169 0L170 3 164 4ZM188 1L187 5 183 6ZM188 1L191 4 187 5ZM39 4L36 10 35 11ZM39 4L42 11 36 10ZM49 6L52 8 49 9ZM100 7L99 9 97 10ZM125 3L130 4 126 10ZM183 6L184 8 176 10ZM52 8L57 14 54 13ZM105 11L111 13 104 14ZM141 8L143 11 138 16ZM123 13L131 20 125 18ZM176 14L183 14 184 17ZM42 18L47 19 49 26ZM186 17L188 23 184 26ZM162 22L169 24 168 31ZM169 24L171 22 168 31ZM188 23L193 29 187 29ZM90 33L95 37 92 40ZM107 32L109 34 107 39ZM109 34L110 38 107 39ZM159 34L164 35 160 38ZM193 33L195 32 197 36ZM25 40L25 45 19 45ZM74 37L78 39 79 45ZM92 40L95 37 92 42ZM110 38L117 38 109 44ZM124 39L128 37 128 42ZM155 36L160 38 153 43ZM161 37L168 38 166 44ZM52 42L57 42 52 48ZM80 41L83 49 78 47ZM71 49L79 51 73 53ZM78 47L83 49 79 51ZM130 46L136 54 129 51ZM18 53L25 53 21 57ZM25 53L29 55 24 59ZM29 55L29 58 24 59ZM73 53L75 58 73 59ZM136 54L135 59 132 56ZM141 53L142 52 140 55ZM13 56L20 63 13 60ZM29 58L29 62 25 62ZM44 58L46 56 43 63ZM94 59L98 63 92 63ZM112 59L114 57 109 62ZM114 57L113 62 109 62ZM135 59L140 55 141 64ZM108 61L109 62 107 67ZM118 61L121 66 116 66ZM129 63L130 69 125 65ZM14 66L18 65 14 72ZM18 65L21 72 14 72ZM64 67L69 68 69 70ZM83 66L80 72 76 73ZM83 66L86 69 85 71ZM107 67L110 73 104 72ZM152 68L157 66 155 72ZM51 72L56 76 54 76ZM59 70L61 73 56 76ZM140 73L140 76 135 78ZM50 78L54 76 53 81ZM56 76L56 81 53 81ZM164 77L167 78 169 83ZM172 79L173 83 169 83ZM4 81L10 83 12 88ZM65 85L69 91 62 90ZM76 88L78 92 70 89ZM115 85L119 87 122 93ZM145 87L146 90 141 90ZM170 87L169 89 164 93ZM174 88L176 90 172 91ZM182 88L189 85 182 91ZM189 85L194 87 186 91ZM172 91L176 90 180 97ZM72 96L78 96 70 101ZM162 97L169 101 165 99ZM9 100L16 101 13 107ZM-0 107L6 110 -1 109ZM4 104L9 108 6 110ZM31 106L32 106 35 112ZM49 104L51 105 50 110ZM6 110L4 115 1 114ZM24 109L30 109 24 114ZM40 109L45 110 40 116ZM45 110L50 110 43 115ZM50 110L53 109 53 115ZM34 117L40 116 33 119ZM48 114L49 121 45 118ZM141 114L143 119 139 121ZM145 115L151 116 148 118ZM74 121L78 119 78 126ZM37 123L43 126 44 131ZM73 125L78 126 72 130ZM176 125L183 131 175 129ZM81 129L86 134 82 133ZM88 132L89 133 86 134ZM107 130L111 128 107 136ZM14 135L21 135 16 141ZM89 133L96 136 97 140ZM128 133L129 141 123 140ZM128 133L135 135 129 141ZM29 139L32 140 30 144ZM78 140L75 143 70 146ZM136 137L138 144 134 144ZM9 145L13 149 10 150ZM30 144L33 142 31 149ZM69 142L73 150 68 151ZM119 146L124 145 126 148ZM130 143L134 144 128 150ZM134 144L136 148 128 150ZM187 145L193 146 185 147ZM18 151L24 147 21 155ZM31 149L32 150 34 155ZM102 150L105 151 107 153ZM143 150L148 150 147 154ZM143 150L147 154 146 154ZM185 147L191 154 188 155ZM146 154L147 154 151 158ZM8 158L16 159 11 163ZM19 156L21 161 14 161ZM26 157L28 160 27 163ZM38 159L44 159 38 163ZM82 157L88 163 83 165ZM108 156L104 165 102 165ZM11 163L14 161 16 167ZM38 163L43 169 37 170ZM50 165L52 164 48 168ZM52 164L58 164 55 167ZM61 162L68 162 67 169ZM88 163L89 169 87 168ZM111 163L110 166 106 169ZM141 165L142 163 138 166ZM142 163L146 167 138 166ZM147 164L152 165 150 168ZM28 170L35 166 28 171ZM55 167L53 175 48 173ZM175 169L172 173 166 174ZM175 169L178 168 172 173ZM178 168L177 174 172 173ZM139 173L144 180 141 179ZM183 172L188 172 186 178ZM43 176L43 181 38 183ZM51 177L58 179 51 181ZM80 176L87 183 83 181ZM111 177L113 175 111 181ZM123 177L130 177 126 184ZM130 177L128 183 126 184ZM173 179L179 179 174 182ZM63 183L64 186 59 187ZM74 182L75 181 71 189ZM111 181L114 184 116 185ZM166 183L174 182 169 185ZM77 185L82 193 75 190ZM116 185L117 192 111 192ZM182 186L184 193 179 193ZM33 192L32 198 27 199ZM127 190L131 193 131 196Z"/><path fill="#7a4c34" d="M21 -6L20 2 13 -2ZM24 -6L29 -4 23 -2ZM37 -3L44 -6 43 -0ZM37 -3L43 -0 39 1ZM170 -3L172 -5 169 0ZM178 -4L177 1 171 0ZM44 6L49 9 42 11ZM91 4L96 5 97 10ZM100 7L105 11 99 9ZM178 3L183 6 176 10ZM52 8L60 9 57 14ZM91 9L90 15 87 15ZM154 9L156 15 147 13ZM168 10L169 13 165 15ZM-3 17L1 12 -3 19ZM48 15L47 19 42 18ZM57 14L57 18 54 18ZM156 15L158 17 152 20ZM21 19L25 17 26 24ZM122 25L122 28 113 30ZM-4 30L0 35 -7 33ZM-7 33L-2 39 -6 37ZM30 35L27 37 25 40ZM37 34L45 32 44 39ZM72 32L78 34 74 37ZM133 34L141 32 133 38ZM56 39L57 42 52 42ZM141 39L144 45 139 43ZM144 40L147 38 144 45ZM160 38L161 37 163 44ZM25 45L29 48 24 49ZM70 43L79 45 71 49ZM92 42L95 45 90 47ZM118 43L126 46 121 48ZM139 43L144 45 140 47ZM153 43L159 42 152 46ZM159 42L165 49 158 49ZM178 44L180 43 182 46ZM113 46L113 51 110 52ZM135 48L140 47 136 54ZM140 47L146 46 142 52ZM85 53L89 59 85 57ZM110 52L112 59 106 58ZM113 51L122 56 114 57ZM129 51L136 54 132 56ZM7 57L11 58 5 62ZM54 59L54 61 46 61ZM56 60L61 56 56 60ZM85 57L89 59 92 63ZM122 56L118 61 113 62ZM178 55L184 59 179 62ZM29 62L35 62 27 65ZM109 62L110 69 107 67ZM134 61L141 64 139 67ZM192 61L196 61 196 68ZM18 65L22 67 21 72ZM34 69L40 66 33 70ZM46 65L51 68 51 72ZM125 65L129 74 127 74ZM171 67L180 65 178 71ZM196 68L196 72 193 71ZM38 74L45 78 37 75ZM61 73L69 70 68 77ZM80 72L88 77 83 78ZM163 72L168 71 167 78ZM-2 77L-2 83 -5 82ZM27 79L33 76 34 80ZM27 79L34 80 29 82ZM61 75L61 81 56 81ZM176 77L183 78 185 81ZM20 82L19 88 16 85ZM69 80L71 82 65 85ZM116 80L115 85 112 88ZM141 82L145 82 145 87ZM148 82L154 80 150 86ZM159 80L163 82 161 85ZM163 82L170 87 161 85ZM-4 88L-2 86 -0 90ZM5 87L12 88 7 91ZM19 88L26 88 26 92ZM104 86L112 88 104 90ZM119 87L125 85 122 93ZM125 85L125 92 122 93ZM137 86L145 87 141 90ZM145 87L150 86 151 93ZM156 84L155 92 151 93ZM194 87L194 92 186 91ZM78 92L78 96 72 96ZM93 92L94 91 92 96ZM104 90L109 91 104 94ZM84 96L88 98 87 101ZM84 96L87 101 84 100ZM148 98L154 97 150 100ZM37 102L43 99 40 106ZM87 101L92 100 90 107ZM95 101L101 103 97 103ZM143 102L149 106 145 105ZM178 101L185 100 177 104ZM9 108L13 107 9 109ZM40 109L40 116 34 117ZM45 110L43 115 40 116ZM92 111L96 113 91 115ZM182 110L188 115 185 116ZM56 115L64 116 60 118ZM88 115L92 119 85 121ZM155 116L158 119 155 122ZM185 116L181 118 176 120ZM-6 122L1 122 2 124ZM52 122L57 123 53 124ZM67 120L74 121 65 124ZM92 119L95 124 92 126ZM194 122L193 125 187 125ZM35 123L35 129 27 130ZM102 124L105 127 102 129ZM24 128L27 130 29 133ZM102 129L107 136 102 136ZM195 129L197 133 194 134ZM53 134L57 135 57 139ZM96 136L102 136 97 140ZM119 134L118 138 117 138ZM137 135L144 135 138 138ZM169 134L174 136 167 139ZM188 133L191 139 188 139ZM16 141L17 137 20 145ZM69 141L72 139 70 146ZM87 138L90 138 84 144ZM97 140L102 146 96 142ZM109 140L109 145 107 144ZM162 141L167 139 162 143ZM-3 144L-0 143 -5 147ZM45 145L45 148 39 149ZM102 146L107 144 105 151ZM113 145L119 146 116 150ZM157 145L162 143 160 147ZM173 143L176 146 171 151ZM52 150L57 155 52 155ZM73 150L77 150 70 154ZM120 149L126 148 126 154ZM38 153L44 152 44 159ZM47 152L52 155 53 157ZM80 153L87 160 82 157ZM-6 160L0 158 -3 164ZM38 163L37 170 35 166ZM44 164L50 165 48 168ZM52 164L55 167 48 168ZM102 165L106 169 102 166ZM127 164L123 169 120 169ZM127 164L129 166 123 169ZM187 165L189 170 182 170ZM-0 168L-2 172 -3 174ZM16 167L20 168 19 172ZM43 169L42 175 37 172ZM97 166L100 173 94 174ZM150 168L154 167 155 174ZM182 170L189 170 183 172ZM59 175L64 174 58 179ZM92 172L94 174 90 176ZM128 172L134 179 130 177ZM4 176L11 183 3 182ZM26 177L23 181 18 183ZM101 178L105 180 102 184ZM113 175L118 179 119 182ZM130 177L134 179 135 181ZM166 177L173 179 174 182ZM3 182L11 183 9 186ZM87 183L87 186 82 185ZM128 183L135 181 134 189ZM31 187L32 189 30 194ZM97 188L100 194 95 194ZM152 188L158 188 152 193ZM24 191L27 199 25 195ZM106 194L105 197 101 197Z"/><path fill="#b05a3a" d="M69 -3L71 -3 68 1ZM71 -3L75 1 70 -0ZM87 -3L93 -6 89 2ZM93 -6L95 -6 96 1ZM-4 2L-1 2 2 6ZM96 1L96 5 91 4ZM120 -1L119 3 114 6ZM123 -1L131 2 130 4ZM30 3L35 11 29 9ZM68 3L68 10 63 9ZM183 6L187 5 186 11ZM22 10L29 9 22 15ZM90 15L90 20 86 21ZM90 15L95 15 95 20ZM6 19L9 24 3 24ZM52 24L59 23 56 29ZM90 22L97 22 93 30ZM97 22L98 29 93 30ZM171 22L178 30 174 31ZM26 29L29 29 26 35ZM174 31L177 35 174 36ZM16 39L12 44 10 41ZM139 43L140 47 135 48ZM185 43L188 48 182 46ZM29 55L33 59 29 58ZM69 52L65 57 61 56ZM132 56L135 59 129 63ZM130 69L137 70 129 74ZM20 82L23 81 26 88ZM90 82L95 86 91 86ZM61 102L68 105 61 106ZM82 106L79 110 76 111ZM103 106L107 106 106 112ZM141 111L143 109 141 114ZM152 111L157 115 155 116ZM157 109L164 109 157 115ZM25 120L29 120 22 124ZM92 119L98 120 95 124ZM173 118L176 120 176 125ZM64 126L61 128 57 129ZM9 128L14 135 10 134ZM163 132L169 134 167 139ZM188 139L187 145 182 143ZM138 144L139 149 136 148ZM187 145L185 147 181 147ZM24 147L24 153 21 155ZM47 152L53 157 49 159ZM107 153L112 159 108 156ZM151 158L147 164 142 163ZM168 159L173 163 169 164ZM102 165L104 165 106 169ZM146 167L150 168 146 173ZM-2 172L4 176 -1 178ZM48 173L49 177 43 176ZM11 179L16 178 11 183ZM183 183L182 186 176 187ZM71 189L77 185 72 194ZM192 188L195 193 194 193ZM30 194L33 192 27 199ZM72 194L71 195 65 198ZM117 192L119 194 118 198Z"/><path fill="#b4a0cc" d="M8 -5L16 -4 9 -1ZM29 -4L31 -6 33 -1ZM37 -3L39 1 33 -1ZM121 -5L123 -1 120 -1ZM140 -3L142 -4 140 1ZM148 -4L151 -7 153 -0ZM13 -2L20 2 21 5ZM33 -1L39 1 35 5ZM81 -0L85 3 81 3ZM96 1L101 -1 100 7ZM162 2L164 4 160 7ZM2 6L7 10 0 9ZM7 7L10 5 7 10ZM10 5L16 10 9 9ZM164 4L168 10 165 8ZM-3 11L1 12 -3 17ZM0 9L7 10 1 12ZM29 9L28 13 22 15ZM63 9L69 14 63 14ZM78 9L82 16 75 15ZM82 9L86 10 82 16ZM134 9L141 8 136 14ZM143 11L147 13 142 15ZM41 12L42 18 38 17ZM116 15L118 15 115 21ZM13 17L21 19 13 23ZM42 18L49 26 43 25ZM95 20L102 18 97 22ZM97 22L100 23 100 27ZM116 24L113 30 108 27ZM135 26L140 25 139 27ZM152 23L157 25 158 28ZM86 28L93 30 90 33ZM86 28L90 33 88 32ZM100 27L107 29 99 34ZM108 27L113 30 117 35ZM113 30L122 28 117 35ZM135 30L139 27 141 32ZM139 27L142 32 141 32ZM174 31L178 30 177 35ZM187 29L186 34 183 35ZM20 34L26 35 21 40ZM109 34L117 35 117 38ZM32 37L35 45 28 45ZM46 38L50 42 43 45ZM118 38L118 43 115 44ZM19 45L21 46 14 47ZM70 43L71 49 69 47ZM178 44L182 46 179 47ZM52 48L54 54 49 52ZM9 53L11 58 7 57ZM49 52L54 59 46 56ZM93 53L94 55 89 59ZM113 51L114 57 112 59ZM178 51L185 53 178 55ZM24 59L29 58 25 62ZM56 60L56 60 54 61ZM73 59L73 62 67 62ZM94 59L100 58 99 64ZM100 58L106 58 108 61ZM112 59L109 62 108 61ZM164 58L164 64 158 64ZM189 56L192 61 189 63ZM5 62L10 61 6 67ZM56 60L64 61 59 67ZM73 62L76 67 72 66ZM164 64L169 64 170 66ZM8 68L14 66 14 72ZM51 68L59 67 51 72ZM101 65L107 67 101 74ZM121 66L127 74 119 73ZM24 73L27 79 22 75ZM33 70L38 74 33 76ZM61 73L68 77 61 75ZM70 73L70 76 68 77ZM70 73L76 73 78 78ZM92 72L98 73 91 77ZM104 72L110 73 104 75ZM110 73L114 74 117 77ZM168 71L171 73 172 79ZM171 73L176 77 172 79ZM193 71L193 78 187 78ZM78 78L83 78 77 80ZM83 78L88 81 80 81ZM100 77L104 75 102 83ZM140 76L142 75 141 82ZM149 76L151 76 148 82ZM183 78L187 78 188 84ZM20 82L26 88 19 88ZM77 80L76 88 74 85ZM90 82L96 80 95 86ZM96 80L99 85 95 86ZM106 82L104 86 99 85ZM116 80L120 82 119 87ZM185 81L189 85 182 88ZM16 85L19 88 13 91ZM28 88L34 91 29 92ZM56 88L62 86 56 90ZM62 86L65 85 62 90ZM-0 90L7 91 6 97ZM9 92L10 96 6 97ZM29 92L33 96 31 98ZM56 90L62 90 56 97ZM78 92L81 92 78 96ZM125 92L124 96 118 97ZM15 96L18 103 16 101ZM22 94L24 102 18 103ZM31 98L29 101 24 102ZM118 97L124 96 123 99ZM135 95L141 100 135 101ZM144 97L148 98 150 100ZM84 100L87 101 82 106ZM129 102L135 101 137 108ZM165 99L169 101 163 105ZM40 106L40 109 35 112ZM6 110L9 109 4 115ZM19 109L24 109 18 115ZM30 109L35 112 34 117ZM132 108L133 110 131 115ZM9 115L16 116 14 119ZM66 114L73 115 67 120ZM164 114L166 117 167 119ZM64 126L65 124 69 130ZM155 127L160 125 152 132ZM160 125L156 131 152 132ZM160 125L164 125 156 131ZM164 125L167 124 163 128ZM167 124L175 125 171 130ZM167 124L171 130 168 130ZM3 130L9 128 10 134ZM90 131L96 136 89 133ZM137 129L143 128 137 135ZM148 128L149 136 144 135ZM148 128L155 136 149 136ZM21 135L17 137 16 141ZM43 132L42 139 39 141ZM43 132L47 136 42 139ZM135 135L136 137 129 141ZM5 140L9 138 6 144ZM9 138L14 142 9 145ZM32 140L37 144 33 142ZM49 140L51 143 50 144ZM78 140L81 138 75 143ZM118 138L124 145 119 146ZM160 138L157 145 152 144ZM179 140L181 139 182 143ZM20 145L22 143 24 147ZM22 143L31 149 24 147ZM33 142L32 150 31 149ZM45 145L50 144 45 148ZM182 143L181 147 177 150ZM10 150L15 152 10 152ZM81 148L88 148 88 155ZM81 148L88 155 80 153ZM88 148L92 149 89 153ZM136 148L139 149 139 155ZM171 151L177 150 175 153ZM6 153L10 152 8 158ZM52 155L57 155 59 157ZM60 155L65 160 61 159ZM88 155L90 157 87 160ZM99 155L107 153 99 160ZM128 157L135 158 128 164ZM151 158L154 158 152 165ZM161 158L165 165 159 164ZM195 160L198 165 192 164ZM58 164L61 162 59 167ZM78 161L83 165 82 168ZM94 161L102 165 102 166ZM111 163L114 163 114 169ZM3 167L6 174 -2 172ZM37 170L43 169 37 172ZM170 166L175 169 166 174ZM190 168L199 173 194 171ZM69 172L72 172 68 178ZM79 172L84 172 76 178ZM84 172L85 176 80 176ZM117 173L118 179 113 175ZM183 172L181 179 179 179ZM194 171L192 176 186 178ZM29 176L32 182 31 180ZM157 177L160 182 153 185ZM164 176L166 183 163 182ZM166 177L174 182 166 183ZM186 178L189 183 183 183ZM32 182L32 189 31 187ZM135 181L137 182 138 186ZM174 182L176 187 173 188ZM178 184L183 183 176 187ZM13 186L18 189 21 192ZM132 188L133 191 131 193ZM0 193L3 193 -1 195ZM21 192L24 191 25 195ZM55 190L58 191 56 195ZM152 193L157 190 159 198ZM187 190L188 197 181 196Z"/><path fill="#d8b0b8" d="M93 -6L96 1 93 -0ZM172 -5L178 -4 171 0ZM81 3L85 3 82 9ZM6 13L10 16 8 17ZM176 14L179 19 171 17ZM13 17L13 23 9 24ZM43 25L49 26 44 27ZM129 25L135 30 130 30ZM37 34L44 39 38 38ZM107 39L109 44 104 43ZM52 42L52 48 48 48ZM69 47L71 49 73 53ZM107 52L106 58 100 58ZM169 58L174 56 174 64ZM183 63L182 66 180 65ZM-4 68L-2 71 -5 74ZM4 71L4 77 -2 77ZM157 73L163 72 164 77ZM178 71L182 72 176 77ZM104 75L106 82 102 83ZM104 75L109 76 112 84ZM29 82L34 80 28 88ZM129 82L135 82 130 85ZM185 81L188 84 189 85ZM44 88L48 86 48 89ZM130 85L133 88 128 93ZM84 93L88 98 84 96ZM99 96L104 94 101 103ZM43 99L49 104 42 104ZM87 101L88 104 82 106ZM193 99L198 99 195 105ZM152 111L157 109 157 115ZM24 114L25 120 20 121ZM24 114L28 113 25 120ZM91 115L97 114 98 120ZM100 117L104 116 102 122ZM115 114L119 117 115 122ZM166 117L175 116 167 119ZM3 118L10 120 10 126ZM29 120L33 119 28 125ZM143 119L142 124 139 127ZM19 127L24 128 21 131ZM65 124L72 130 69 130ZM119 123L121 129 117 132ZM152 132L158 132 155 136ZM68 133L72 139 69 141ZM138 138L143 137 138 144ZM176 146L182 143 177 150ZM126 148L128 150 126 154ZM153 147L159 154 152 153ZM-4 153L0 158 -6 160ZM177 155L184 154 183 156ZM177 155L183 156 178 158ZM184 154L188 155 183 156ZM35 159L38 159 33 161ZM82 157L87 160 88 163ZM164 176L163 182 160 182ZM13 182L18 183 18 189ZM51 181L51 189 47 188ZM47 188L51 189 46 192ZM97 188L95 194 92 192ZM55 190L56 195 53 196Z"/><path fill="#7a8c98" d="M108 -4L114 -6 117 1ZM20 2L23 -2 25 6ZM23 -2L31 0 25 6ZM31 0L35 5 30 3ZM93 -0L91 4 85 3ZM101 -1L105 -2 100 7ZM96 5L100 7 97 10ZM109 4L114 6 112 10ZM171 5L173 9 168 10ZM187 5L191 4 186 11ZM49 9L52 8 54 13ZM73 8L70 15 69 14ZM73 8L75 15 70 15ZM143 11L142 15 138 16ZM18 16L25 17 21 19ZM28 13L29 21 25 17ZM63 14L69 14 66 19ZM70 15L75 15 70 21ZM147 13L151 17 145 19ZM0 20L3 24 -2 26ZM61 18L66 19 65 25ZM90 20L95 20 97 22ZM145 19L151 17 143 25ZM38 24L39 31 35 31ZM52 24L51 31 49 28ZM162 22L168 31 163 30ZM184 26L183 30 178 30ZM192 23L196 22 193 29ZM107 29L108 27 107 32ZM30 35L32 37 27 37ZM142 32L149 34 147 38ZM164 35L166 34 168 38ZM27 37L32 37 28 45ZM161 37L166 44 163 44ZM182 38L185 37 185 43ZM35 45L37 44 39 49ZM37 44L43 45 42 47ZM43 45L48 48 42 47ZM63 42L62 46 56 46ZM88 45L92 42 90 47ZM109 44L111 48 104 46ZM90 47L98 48 94 55ZM90 47L94 55 93 53ZM126 46L130 46 126 51ZM194 48L196 52 192 55ZM29 55L32 52 33 59ZM185 53L184 59 178 55ZM29 58L33 59 29 62ZM153 59L153 60 148 62ZM159 57L158 64 153 60ZM64 61L64 67 59 67ZM123 62L125 65 121 66ZM189 63L192 61 188 67ZM46 65L48 72 42 71ZM76 67L83 66 76 73ZM110 69L116 66 110 73ZM144 71L142 75 140 76ZM157 73L157 76 151 76ZM17 78L18 77 14 82ZM37 75L38 82 34 80ZM45 78L50 78 42 80ZM125 76L129 76 129 82ZM187 78L193 78 190 83ZM42 80L48 86 44 88ZM71 82L77 80 74 85ZM88 81L90 82 91 86ZM135 82L141 82 133 88ZM190 83L194 87 189 85ZM44 88L48 89 41 90ZM95 86L102 92 94 91ZM99 85L104 86 104 90ZM133 88L137 86 136 91ZM160 86L164 93 157 90ZM38 90L41 90 37 97ZM-7 98L2 103 -3 101ZM111 95L114 94 115 100ZM182 96L188 95 187 99ZM29 101L34 99 32 106ZM49 102L54 100 51 105ZM111 101L115 100 116 107ZM137 108L138 104 133 110ZM170 104L175 105 174 111ZM177 104L182 110 179 109ZM179 109L182 110 185 116ZM18 115L24 114 20 121ZM175 116L176 116 173 118ZM115 122L121 119 119 123ZM121 119L126 120 119 123ZM181 118L187 125 185 125ZM109 127L117 127 117 132ZM136 125L137 129 134 129ZM167 124L168 130 163 128ZM121 129L119 134 114 136ZM163 132L167 139 162 141ZM174 136L179 135 172 141ZM-3 139L-0 143 -3 144ZM16 141L20 145 14 142ZM39 141L42 139 37 144ZM52 138L57 139 51 143ZM188 139L191 139 193 146ZM69 142L68 151 61 147ZM153 147L160 147 159 154ZM78 153L76 158 71 158ZM121 155L118 159 114 160ZM178 158L183 163 176 162ZM33 161L38 163 35 166ZM88 163L93 165 89 169ZM152 165L154 167 150 168ZM120 169L123 169 126 172ZM189 170L188 172 183 172ZM189 170L190 168 188 172ZM19 172L20 176 16 178ZM32 172L37 172 33 178ZM64 174L69 172 68 178ZM72 172L72 180 68 178ZM33 178L38 177 38 183ZM3 182L9 186 6 187ZM31 180L32 182 31 187ZM49 183L51 181 47 188ZM89 181L97 188 91 187ZM-3 186L2 188 -3 194ZM2 188L0 193 -3 194ZM118 188L126 188 127 190ZM15 190L21 192 18 198ZM21 192L25 195 18 198ZM127 190L124 197 118 198Z"/><path fill="none" stroke="#05070c" stroke-width="1.2" stroke-linecap="round" d="M82 179l1 3M74 176l-5 2M73 99l4 2M25 91l1 -4M162 159l2 -2M25 71l-1 6M133 183l-0 2M76 134l2 -4M112 141l3 2M171 21l-4 -2M85 57l3 -3M15 111l-1 -6M184 31l3 2M171 71l4 -4M45 130l-3 -3M2 173l5 -1M104 154l5 0M36 129l6 1M75 178l3 -3M105 87l5 -1M49 39l-3 -1M14 54l-4 3M92 104l3 -3M102 136l-2 2M108 185l-3 -2M31 104l5 1M47 78l-5 -0M97 68l2 2M167 155l0 -3M95 115l-2 -3M149 24l-1 4M102 148l-0 3M85 82l5 0M12 83l6 -0M74 116l-4 0M32 25l3 2M100 122l-2 1M40 71l2 5M142 89l4 1M22 185l0 -3M119 61l-0 -5M182 124l-1 4M83 84l-2 1M178 44l-2 -2M125 32l-2 5M58 142l3 1M45 49l5 -3M93 121l4 0M140 27l-1 3M86 65l3 -3M114 144l-1 -4M170 15l-4 -1M84 107l-0 -2M160 99l5 -2M74 34l-1 2M128 70l-2 -6M13 83l-3 -5M92 9l-2 5M36 8l2 -1M156 22l2 3M136 119l-3 -1M99 17l-1 3M98 158l-3 -4M144 15l-1 -2M133 138l-2 -1M126 11l3 3M49 103l-2 0M149 80l-1 3M177 51l-1 2M57 183l1 -2M4 75l3 -3M14 87l3 -4M184 28l0 5M35 174l-1 -4M51 150l2 5M120 23l-1 4M104 8l-3 5M70 162l-5 -2M88 6l-1 -2M83 94l-2 0M102 31l2 3M183 130l-1 6M5 76l-2 1M106 156l0 -6M126 6l-5 3M168 13l4 4M131 20l-1 -4M8 55l-1 3M3 175l5 1M74 114l-1 3M173 113l1 6M177 53l2 1M66 60l5 -3M90 21l-4 -1M140 3l2 -2M61 151l1 -2M149 96l-2 3M82 140l4 3M151 117l-2 2M66 152l1 -3M118 121l-2 5M99 77l0 -4M57 54l-3 0M36 17l2 5M102 23l-3 3M119 160l0 -4M41 98l-2 -3M35 15l2 5M13 2l-0 -5M176 137l0 -5M178 174l1 -2M78 110l3 4M142 6l-2 3M105 87l-1 -6M156 163l3 -2M104 50l1 -3M27 134l-2 -1M123 111l0 -2M145 38l-3 2M144 46l4 -4M170 48l-1 3M178 41l-4 1M22 46l3 3M15 23l4 1M148 100l4 0M16 128l0 -3M180 55l1 -3M125 140l5 -2M177 104l1 -4M68 52l-4 2M55 66l5 3M88 121l5 -0M159 164l0 4M165 129l-2 -0M63 117l-1 5M99 108l-1 -3M67 172l1 3M152 158l-2 -3M96 77l-3 4M81 63l-3 -1M180 135l0 -2M150 53l-2 -3M124 44l-1 4M152 79l-3 3M41 53l-2 2M50 82l3 -4M36 79l3 4M115 59l0 2M110 153l-1 4M60 173l-1 2M83 76l-3 -1M57 72l1 -6M172 49l1 4M18 20l6 -2M57 129l2 5M72 55l-0 -5M126 55l3 3M167 160l-5 -1M138 157l-5 2M77 175l-3 3M69 97l-2 4M76 75l-2 -2M71 89l2 6M183 18l-5 2M40 150l-3 0M41 68l3 -0M162 141l2 2M171 104l-2 -4M103 118l0 5M13 25l3 -1M48 48l3 1M11 146l-2 -4M180 37l5 3M79 107l4 4M133 77l4 -3M111 180l5 -3M150 8l-3 -1M51 26l-2 -5M113 185l-1 -4M131 37l2 1M38 131l-1 -4M22 27l0 4M120 149l1 -2M111 57l-1 3M45 59l-1 2M167 86l-2 -0M143 107l-3 -2M43 167l-2 -2M179 26l-3 -2M73 52l1 4M145 86l-1 4M147 97l-1 2M12 132l1 -5M22 173l-1 -5M102 127l4 2M171 69l-1 -3M71 84l-3 -1M180 16l0 2M137 76l-6 0M162 80l-3 -5M175 121l3 -4M121 136l5 -1M59 152l4 -4M153 157l-3 3M116 64l-2 -1M30 55l-6 -0M77 141l-4 0M129 153l-6 0M0 112l3 -2M50 148l1 3M25 140l-0 -5M16 76l-5 2M175 175l-0 5M104 14l-1 4M65 20l1 3M53 32l3 -2M100 87l2 -5M113 50l6 -1M159 95l-2 5M133 110l2 -3M114 109l-2 5M40 102l-6 1M121 178l2 -5M137 32l-3 -5M85 47l-1 -4M83 107l-3 -2M16 161l-1 3M110 122l4 -1M65 59l3 5M67 101l3 4M54 88l-3 -0M177 21l-3 -3M100 21l2 1M19 166l-2 -2M72 131l5 -3M59 122l4 -1M149 176l2 3M158 184l-0 -3M13 45l-3 -5M179 34l-0 3M32 7l4 4M180 118l-5 2M127 108l-3 -4M60 49l2 2M50 141l1 3M95 48l-1 -2M64 86l-1 -3M149 45l2 3M135 94l-2 4M79 80l-3 0M129 122l2 6M165 84l4 3M128 48l-1 -3M87 77l-3 0M28 152l-3 0M157 125l3 4M174 92l2 -0M89 106l3 -2M141 162l-4 -1M150 25l2 -4M151 64l2 -2M111 157l3 -2M4 106l3 4M129 10l-3 -4M181 162l0 4M65 87l-4 -0M147 23l2 2M158 120l-0 -3M120 8l-5 2M124 126l-6 -1M56 8l1 3M125 11l-1 5M32 105l2 4M91 54l-5 -0M137 61l-2 -1M143 62l-0 -3M153 118l3 -1M86 68l1 -4M73 39l5 1M23 143l2 5M11 149l-3 4M101 172l-2 -4M153 87l-1 -4M19 156l-4 -3M56 120l-4 -4M148 180l-0 3M148 171l1 2M156 64l-1 2M39 120l-0 3M113 135l-3 -4M25 173l-4 -1M177 50l-1 -3M122 66l-3 0M1 67l4 4M159 174l-3 -2M69 87l-3 2M162 77l3 -1M87 141l-0 3M72 91l-2 -2M145 137l3 -0M91 73l-4 3M59 177l2 1M158 134l-0 -3M65 115l5 -0M161 98l-2 -0M16 106l-3 -5M93 126l-1 -2M110 124l4 -0M160 96l-2 -4M181 176l-2 2M82 104l3 3M16 39l5 -2M94 181l1 3M179 147l-2 0M52 91l5 -1M43 144l-3 -5M111 130l-3 -2M104 151l2 -2M138 150l1 2M114 53l-1 5M152 147l3 -5M90 12l0 -4M176 24l4 1M151 59l6 -0M76 39l2 -3M40 84l-2 -0M73 26l-3 -5M104 29l-2 -3M161 11l-3 4M148 117l-1 2M94 101l0 -5M173 171l3 -3M140 121l-2 -1M106 47l6 1M94 12l-5 3M87 34l-3 1M183 170l2 -2M131 32l4 -1M120 146l-4 3M102 4l2 5M116 110l-5 1M22 118l0 -3M29 112l-3 -2M169 47l-1 -3M56 0l-1 5M37 12l5 2M135 126l1 4M154 147l4 -0M110 150l2 4M105 166l4 4M134 96l-4 2M162 70l-3 4M83 110l-5 2M17 50l3 -0M78 47l4 0M112 120l1 3M122 6l0 -2M10 159l-3 -1M93 173l3 3M146 39l-2 6M64 84l-2 4M35 55l-4 4M152 36l-1 -3M35 175l-5 -2M85 19l-0 -4M45 144l3 1M180 160l4 -4M177 81l-3 -2M76 76l2 1M176 109l0 -5M80 50l-5 -2M143 33l-2 2M92 148l2 2M91 15l1 -5M99 25l-1 -3M84 102l2 1M121 91l-1 -6M8 104l-3 1M126 10l-4 -4M92 85l-5 -0M34 61l6 -1M114 168l-2 3M61 168l-3 -5M9 48l-1 -4M174 152l-4 -0M146 18l1 3M121 91l3 -3M174 169l-0 4M43 115l-4 -2M89 94l-2 0M124 164l-2 -2M116 82l3 -3M21 125l2 0M150 0l-2 -2M102 144l0 4M17 18l-1 3M183 77l5 -1M147 130l-3 3M106 8l-4 2M39 82l2 -5M175 80l-0 -3M167 161l2 3M179 28l0 -2M12 144l-4 3M151 120l4 0M94 98l-3 5M71 110l-1 -3M7 146l4 3M34 83l1 5M69 137l-2 -4M30 181l-1 2M23 160l3 3M11 105l-4 3M165 106l4 -0M124 69l-4 -4M74 24l2 1M165 182l-1 -4M132 41l3 -2M25 10l-4 2M67 93l-1 -4M134 57l3 4M121 89l6 2M69 135l-5 -3M39 127l-4 -4M10 40l3 2M70 96l-0 -6M6 176l-4 -1M106 160l2 0M12 58l6 0M106 157l3 -4M64 146l0 -5M180 181l2 2M176 31l-3 3M50 19l6 2M54 71l-1 2M95 3l-1 4M124 3l2 -1M50 135l-3 2M2 79l2 5M21 19l3 3M175 80l0 5M95 183l-2 -1M11 93l3 -1M159 149l1 4M109 157l-4 -4M145 3l-4 2M152 173l4 1M160 76l-3 -5M22 55l2 2M2 8l2 -1M107 31l4 4M12 61l0 -3M24 45l2 -5M32 4l-2 -4M130 72l3 -1M174 172l2 2M67 181l3 -2M158 97l3 -3M115 133l4 -4M112 8l-1 -3M64 83l-2 -4M35 70l3 3M60 13l-4 -0M49 68l-2 -3M83 55l-4 2M23 127l-1 4M117 152l1 3M121 7l-3 0M157 0l0 -3M186 173l-1 -3M163 21l-1 -3M21 80l-3 3M106 31l-3 -2M1 107l-4 -4M30 169l-5 -1M72 94l3 5M122 106l3 -5M181 111l3 -1M80 98l4 -3M150 52l5 -3M80 170l-5 -2M19 116l0 -3M35 61l4 2M32 159l1 4M172 117l6 -1M161 127l4 2M85 60l1 4M185 45l2 4M171 124l3 -2M126 52l-2 5M45 65l-4 2M4 59l3 -3M0 100l-0 2M48 23l2 -2M50 74l-0 -4M178 137l1 -3M92 149l-3 -2M115 61l3 -0M76 75l0 5M51 69l2 -2M60 122l-3 -1M119 145l-2 -1M129 61l-3 1M167 101l2 -2M185 4l-1 4M21 36l2 1M64 178l1 -4M26 13l1 -3M98 184l3 1M40 70l4 -4M11 49l5 1M150 13l3 2M60 53l5 3M44 94l2 0M139 15l4 -2M149 125l-5 2M182 85l3 -4M89 136l-4 -3M101 6l1 -2M1 100l-1 4M153 107l2 1M23 58l2 -2M103 44l-0 6M62 81l-4 -1M79 19l1 2M10 72l2 -3M6 131l4 -3M183 58l3 -1M143 112l-1 -4M117 168l-2 0M48 123l-1 -2M154 42l-1 -5M47 96l-4 2M171 185l0 -4M125 96l-3 0M178 156l3 -3M38 123l-3 3M98 106l-2 -4M186 36l-1 5M143 21l4 3M177 116l1 -4M9 29l2 1M73 70l5 2M30 21l-3 4M51 160l2 4M30 146l4 -4M105 99l-2 1M40 72l-3 3M175 155l-2 -2M17 81l-2 -6M78 51l-1 4M178 165l-2 4M62 4l3 2M11 91l0 -2M128 85l2 -0M78 107l3 -1M57 105l-4 0M153 49l-3 -2M81 141l3 1M114 15l1 -2M81 31l1 3M140 142l5 0M90 68l-5 -3M159 5l-0 -5M183 86l1 5M17 11l2 2M102 132l1 2M127 162l-3 -3M131 106l5 0M101 104l5 -2M66 8l-0 -4M172 18l-1 5M71 47l-5 1M154 158l1 2M120 3l2 -2M155 44l-2 4M181 155l-2 -0M26 75l-6 0M76 103l3 1M67 114l-5 -2M155 27l-0 6M156 27l4 -3M142 133l1 4M74 150l-5 -1M52 108l-1 -2M119 11l2 -5M39 143l2 4M186 82l0 5M116 151l5 -2M118 138l-2 4M127 103l-2 -2M62 106l-4 -3M126 126l1 2M185 54l3 -3M86 35l2 2M34 53l-2 -4M86 84l-2 -2M10 156l-4 -4M40 46l5 2M81 115l-3 1M6 110l1 3M28 68l3 2M15 2l-2 2M2 8l-3 -5M27 74l1 -1M149 1l2 5M169 108l-2 3M162 75l1 -3M62 121l3 -2M78 143l4 2M85 98l1 -3M44 8l5 -4M71 137l3 1M42 62l-0 2M39 45l-1 2M124 96l3 1M12 14l-4 0M106 51l3 -3M110 149l1 3M173 153l1 4M118 5l1 5M147 178l-1 -2M42 150l-6 1M126 69l-6 0M136 40l4 2M86 31l5 2M187 68l3 1M54 106l1 -5M24 120l-5 1M88 104l4 -0M124 154l-4 0M5 21l-0 3M84 49l5 1M51 127l-6 2M10 56l-2 -6M166 182l-2 3M70 15l2 -1M152 82l5 1M181 36l6 -1M22 17l-4 1M7 109l3 -1M28 145l-1 5M141 58l3 -2M163 184l4 -3M67 4l2 -1M95 3l-2 1M180 5l1 3M63 31l6 -2M1 175l-5 2M83 155l-1 -4M134 144l-4 -3M8 185l-4 -4M90 182l-2 1M146 156l-1 -5M86 5l-3 -1M57 147l3 2M90 33l-4 -2M30 124l-4 -3M61 4l1 5M47 87l4 -2M93 131l3 -4M127 136l1 -5M130 139l2 -5M125 160l-2 0M144 38l-3 0M122 37l4 -4M116 175l4 -1M74 154l-4 -1M155 131l-4 2M9 136l-4 4M172 100l5 1M73 182l-3 0M116 4l-1 -2M0 28l1 -4M182 6l-4 4M102 84l5 4M92 155l-5 -1M140 178l4 -3M132 59l1 2M154 172l-5 1M185 39l-2 -1M71 39l1 2M22 100l-2 0M83 139l1 2M68 55l3 -3M114 12l2 2M49 111l-2 -4M4 61l-2 -3M112 8l-2 -3M152 157l-4 -2M129 74l-0 -3M90 2l2 2M46 171l6 0M70 149l-5 0M50 79l1 -3M115 7l-4 -0M46 104l5 -3M124 126l-2 -3M109 41l1 4M43 141l-5 3M65 147l3 -4M170 94l4 -4M33 83l6 -0M72 44l-4 -3M176 9l2 2M88 153l-4 1M107 113l4 -2M147 76l-1 5M150 183l-1 -5M113 123l-3 -5M166 126l-0 3M44 152l5 -1M101 168l1 2M141 21l-2 -1M182 162l2 -3M184 52l1 5M109 82l3 -4M121 35l-1 -4M24 144l4 -4M29 16l-3 1M172 66l3 -0M117 147l5 2M48 148l-1 -3M11 70l-5 3M58 59l1 2M6 90l-4 1M86 133l-0 5M178 22l4 0M37 22l-4 2M181 73l1 4M91 105l-4 3M7 179l-3 -5M101 40l-1 -3M99 166l0 -2M154 106l-3 1M60 179l-2 3M12 174l-1 -3M156 168l0 -3M181 112l0 3M176 110l-4 1M154 156l-2 1M45 172l3 2M23 148l1 2M138 120l3 5M78 97l-0 -5M158 93l0 2M146 50l1 -3M85 71l3 3M81 173l-4 -4M149 27l3 0M166 104l-0 -2M28 60l0 2M116 78l-3 3M161 14l-3 -0M139 92l3 3M146 183l2 5M93 168l1 6M95 57l-3 -3M52 4l3 -3M184 120l-3 3M126 38l5 1M129 21l2 3M165 31l2 1M155 104l-1 -5M31 50l-3 3M153 106l-1 4M177 33l-3 2M88 89l3 1M186 49l-2 -3M130 98l-1 5M75 77l1 4M31 151l-4 -1M44 21l2 3M113 69l4 3M38 132l-3 3M116 165l1 2M129 2l-2 -2M89 82l-2 -0M161 164l3 3M177 153l-0 -5M61 153l-4 -1M176 103l3 1M35 95l1 4M38 61l6 -1M51 88l-4 2M113 6l4 -3M50 13l-2 3M52 101l2 -3M172 118l1 -4M72 57l2 2M92 34l0 -6M25 15l0 -6M110 183l2 1M34 122l4 -1M37 167l0 3M59 62l2 0M14 77l0 -5M121 29l1 3M159 60l0 3M100 14l-2 -1M174 164l4 -1M174 105l3 4M104 22l3 -0M178 126l2 2M103 183l3 0M179 138l-3 1M46 184l-1 -2M6 8l-1 3M23 106l-2 1M125 108l-1 -3M108 41l-3 -4M80 96l3 -1M7 168l-2 3M185 15l-1 5M48 111l3 3M44 79l-1 5M49 79l-3 -2M51 8l6 1M14 26l2 -2M1 56l2 3M153 53l3 0M145 89l-2 4M56 46l-3 -2M14 180l-3 3M42 149l5 -1M84 37l-2 6M185 122l-2 1M139 14l3 3M2 12l-1 5M144 111l3 -1M137 8l4 -3M31 89l1 -5M97 127l-1 4M18 170l-4 -2M145 129l1 3M158 98l-2 -3M171 43l-3 -0M150 72l3 -5M121 159l3 3M103 138l4 -1M47 159l-1 -4M159 3l-2 -3M123 71l-4 -0M35 29l3 -2M100 84l-3 -5M117 30l6 1M68 78l5 -1M30 129l-2 4M10 42l-3 0M21 104l-1 -3M107 79l-2 2M79 138l-1 2M51 13l-4 -3M108 109l3 -4M136 145l-1 3M108 141l4 -1M42 12l5 3M32 112l-1 -4M76 130l-0 6M30 148l-2 -2M174 141l1 5M10 17l-2 4M49 89l-3 -2M96 83l-0 3M26 143l-3 -5M75 128l1 -3M99 123l5 1M78 173l-1 2M149 154l0 -3M158 90l0 2M152 2l-1 6M160 68l-1 4M107 123l-2 -4M93 10l5 -2M43 151l-2 3M175 57l3 3M21 38l4 1M24 171l-1 -3M85 24l3 2M166 41l-0 -2M142 132l-2 -0M182 50l2 4M34 143l2 -2M12 102l-0 -3M137 117l2 1M94 35l2 2M5 170l-1 -3M40 99l0 2M28 72l-4 -0M182 10l2 -4M37 183l-3 -1M58 5l2 5M152 181l1 -2M7 106l1 -4M67 154l5 -0M148 96l-3 4M35 142l3 3M0 169l-3 3M152 127l-1 -3M114 10l1 -3"/></g></g></svg>
<svg class="img" style="left:574px;top:260px" width="186" height="185" viewBox="0 0 186 185">
<defs>
<linearGradient id="sky" x1="0" y1="0" x2="0.2" y2="1">
<stop offset="0" stop-color="#131c40"/><stop offset="0.3" stop-color="#24366c"/><stop offset="0.45" stop-color="#3a5088"/><stop offset="0.62" stop-color="#6c7eb4"/><stop offset="0.78" stop-color="#a8b0d2"/><stop offset="1" stop-color="#c8cee2"/>
</linearGradient>
<linearGradient id="cl" x1="0" y1="0" x2="0" y2="1">
<stop offset="0" stop-color="#d8e0f4"/><stop offset="1" stop-color="#d0d8ee"/>
</linearGradient>
<pattern id="dots" width="8.4" height="8.4" patternUnits="userSpaceOnUse" patternTransform="rotate(-35)"><rect width="8.4" height="8.4" fill="#a4acc8"/><ellipse cx="4.2" cy="4.2" rx="2.9" ry="2.5" fill="#e8ebf3"/><ellipse cx="0" cy="0" rx="2.9" ry="2.5" fill="#eef0f6"/><ellipse cx="8.4" cy="0" rx="2.9" ry="2.5" fill="#eef0f6"/><ellipse cx="0" cy="8.4" rx="2.9" ry="2.5" fill="#eef0f6"/><ellipse cx="8.4" cy="8.4" rx="2.9" ry="2.5" fill="#eef0f6"/></pattern>
<filter id="ob" color-interpolation-filters="sRGB" filterUnits="userSpaceOnUse" x="0" y="0" width="186" height="185"><feConvolveMatrix order="3" kernelMatrix="1 2 1 2 12 2 1 2 1" divisor="24" edgeMode="duplicate"/></filter>
<filter id="ob2" color-interpolation-filters="sRGB" x="-0.3" y="-0.3" width="1.6" height="1.6"><feGaussianBlur stdDeviation="2.5"/></filter>
<filter id="ob3" color-interpolation-filters="sRGB" x="-0.3" y="-0.3" width="1.6" height="1.6"><feGaussianBlur stdDeviation="1.2"/></filter><filter id="ob3x" color-interpolation-filters="sRGB" x="-0.3" y="-0.3" width="1.6" height="1.6"><feGaussianBlur stdDeviation="0.7"/></filter>
<clipPath id="oc"><rect width="186" height="185"/></clipPath>
</defs>
<g clip-path="url(#oc)"><g filter="url(#ob)">
<rect width="186" height="185" fill="url(#sky)"/>
<g filter="url(#ob3)" opacity="0.7">
<ellipse cx="125.7" cy="7.7" rx="3.7" ry="2.0" fill="#5a70ac" transform="rotate(-25 125.7 7.7)"/><ellipse cx="146.8" cy="5.8" rx="4.1" ry="2.1" fill="#5a70ac" transform="rotate(-25 146.8 5.8)"/><ellipse cx="164.0" cy="7.7" rx="4.9" ry="1.6" fill="#5a70ac" transform="rotate(-25 164.0 7.7)"/><ellipse cx="104.5" cy="21.0" rx="3.0" ry="2.3" fill="#5a70ac" transform="rotate(-25 104.5 21.0)"/><ellipse cx="133.4" cy="19.2" rx="3.8" ry="1.7" fill="#5a70ac" transform="rotate(-25 133.4 19.2)"/><ellipse cx="150.7" cy="19.2" rx="6.0" ry="2.0" fill="#5a70ac" transform="rotate(-25 150.7 19.2)"/><ellipse cx="173.8" cy="17.3" rx="5.5" ry="2.0" fill="#5a70ac" transform="rotate(-25 173.8 17.3)"/><ellipse cx="127.6" cy="34.6" rx="4.9" ry="1.7" fill="#5a70ac" transform="rotate(-25 127.6 34.6)"/><ellipse cx="146.8" cy="32.7" rx="4.9" ry="2.4" fill="#5a70ac" transform="rotate(-25 146.8 32.7)"/><ellipse cx="170.0" cy="34.6" rx="4.6" ry="2.2" fill="#5a70ac" transform="rotate(-25 170.0 34.6)"/><ellipse cx="135.0" cy="50.0" rx="5.0" ry="1.6" fill="#5a70ac" transform="rotate(-25 135.0 50.0)"/><ellipse cx="156.5" cy="48.0" rx="5.3" ry="2.1" fill="#5a70ac" transform="rotate(-25 156.5 48.0)"/><ellipse cx="177.6" cy="48.0" rx="3.9" ry="1.5" fill="#5a70ac" transform="rotate(-25 177.6 48.0)"/><ellipse cx="150.7" cy="61.5" rx="5.6" ry="2.0" fill="#5a70ac" transform="rotate(-25 150.7 61.5)"/><ellipse cx="173.8" cy="57.7" rx="5.2" ry="2.4" fill="#5a70ac" transform="rotate(-25 173.8 57.7)"/><ellipse cx="182.0" cy="28.0" rx="5.1" ry="2.4" fill="#5a70ac" transform="rotate(-25 182.0 28.0)"/><ellipse cx="118.0" cy="48.0" rx="4.2" ry="2.3" fill="#5a70ac" transform="rotate(-25 118.0 48.0)"/>
</g>
<!-- clouds left -->
<path d="M0 14 C4 10 10 10 14 14 C18 12 24 14 26 18 C30 16 36 18 38 22 C42 20 48 22 50 26 C54 24 60 26 62 30 C66 28 72 30 74 33 C80 32 86 34 88 38 C92 37 95 39 96 42 L98 95 L60 125 L0 125 Z" fill="url(#cl)"/>
<g filter="url(#ob2)">
<ellipse cx="30" cy="58" rx="18" ry="7" fill="#a4b2da"/>
<ellipse cx="62" cy="48" rx="14" ry="6" fill="#aab8de"/>
<ellipse cx="22" cy="26" rx="12" ry="4" fill="#f4f6fc"/>
<ellipse cx="40" cy="66" rx="18" ry="6" fill="#eef2fa"/>
<ellipse cx="12" cy="84" rx="14" ry="5" fill="#eef2fa"/>
</g>
<g filter="url(#ob3x)">
<path d="M10 33 C16 31 24 34 28 38 C24 41 18 41 12 40 Z" fill="#4a5a8c"/><path d="M30 30 C34 29 38 31 38 33 C35 35 31 34 30 30 Z" fill="#5a6a9a"/>
<path d="M0 73 C14 75 30 80 42 84 C48 86 54 88 57 91 C46 91 34 88 24 85 C14 82 6 78 0 77 Z" fill="#263468"/>
<path d="M30 88 C38 87 46 88 54 91 C48 94 40 93 30 91 Z" fill="#2c3a70"/>
<path d="M0 96 C6 95 12 97 18 99 C14 101 8 101 4 100 C10 103 16 106 20 108 C14 109 6 106 0 104 Z" fill="#34447a"/>
<path d="M2 110 C10 110 18 112 26 114 C20 116 10 115 4 114 Z" fill="#2a3a70"/>
<path d="M4 117 C14 116 24 118 32 121 C22 122 12 121 4 120 Z" fill="#3a4a80"/>
</g>
<!-- bottom-left textured -->
<path d="M0 120 C12 119 26 121 40 124 L52 185 L0 185 Z" fill="url(#dots)"/>
<!-- light area right -->
<g filter="url(#ob2)"><ellipse cx="176" cy="148" rx="22" ry="40" fill="#c4cae0"/></g>
<!-- speaker -->
<path d="M124 127 L177 125 L183 185 L131 185 Z" fill="#0c0c10"/>
<path d="M127 156 L180 155" stroke="#3a3a40" stroke-width="0.8"/>
<path d="M152 129 h10 v23 h-2.6 v-12 h-4.6 v12 h-2.8 Z" fill="#d4d4d8"/>
<path d="M155 130.5 h4 v4 h-4 Z" fill="#202024"/>
<path d="M156 161 h10 v24 h-2.6 v-12 h-4.6 v12 h-2.8 Z" fill="#d4d4d8"/>
<path d="M159 162.5 h4 v4 h-4 Z" fill="#202024"/>
<!-- legs/torso -->
<path d="M46 86 C60 80 80 80 96 82 C112 82 126 84 134 92 C138 104 134 118 126 128 C126 148 126 168 128 185 L58 185 C56 168 54 150 56 132 C50 118 44 100 46 86 Z" fill="#e6e8ee"/>
<path d="M96 156 C108 162 114 172 116 185 L104 185 C102 174 98 166 92 160 Z" fill="#c0c4d0"/>
<path d="M60 150 C66 160 70 175 70 185 L62 185 C60 172 58 160 56 152 Z" fill="#c8ccd6"/>
<path d="M108 168 C114 166 120 170 118 176 C114 178 108 176 108 168 Z" fill="#a8acb8"/>
<!-- left arm -->
<path d="M54 85 C46 92 38 104 33 114 C31 120 36 126 44 128 C50 130 56 132 60 132 L64 120 C56 118 48 116 47 112 C52 104 60 96 66 90 Z" fill="#eceef2"/>
<path d="M34 116 C38 122 46 126 58 128 L56 132 C46 130 38 128 33 122 Z" fill="#b4b8c6"/>
<path d="M46 96 C50 92 54 90 58 88 L60 92 C54 96 50 100 48 102 Z" fill="#c4c8d4"/>
<!-- right arm -->
<path d="M106 82 C118 80 128 82 132 92 C134 100 138 106 146 104 L150 100 L156 112 C152 122 144 128 132 128 C120 126 112 116 108 104 Z" fill="#e8eaf0"/>
<path d="M120 112 C126 120 136 124 150 118 L152 121 C142 128 126 128 118 118 Z" fill="#b4b8c8"/>
<!-- chest shading -->
<path d="M66 92 C76 98 88 100 100 96 L104 120 C92 126 76 122 68 112 Z" fill="#d4d8e2"/>
<path d="M73 83 L84 84 L83 88 L73 88 Z" fill="#2a2e38"/>
<path d="M100 90 L110 90 L111 106 L102 106 Z" fill="#101218"/>
<path d="M92 88 C96 86 100 88 98 94 L94 96 Z" fill="#404652"/>
<!-- helmet -->
<path d="M70 46 C76 38 98 35 112 39 C120 44 122 60 120 74 C116 84 104 88 90 88 C78 87 70 80 68 68 C67 58 67 52 70 46 Z" fill="#e4e6ec"/>
<path d="M68 54 C67 64 70 74 76 80 L79 76 C74 70 72 62 72 52 Z" fill="#9ca0ac"/>
<path d="M108 38 C110 36 114 36 116 38 L116 43 L108 43 Z" fill="#d0d4dc"/><path d="M114 44 C120 50 122 62 120 74 C118 80 114 84 108 86 L110 80 C114 72 116 60 114 44 Z" fill="#a8acb8"/>
<path d="M74 50 C84 44 106 44 116 50 C118 58 118 66 114 71 C102 74 88 74 78 71 C74 66 73 56 74 50 Z" fill="#f0f2f6"/>
<!-- visor -->
<path d="M77 52 C86 47 104 47 114 51 C116 57 115 63 112 67 C100 69 88 69 80 67 C77 63 76 57 77 52 Z" fill="#0c1020"/>
<path d="M89 57 L91 57 L90 70 L88 70 Z" fill="#3a4a6a"/>
<path d="M82 52 C90 50 104 50 110 52" stroke="#4a5a7a" stroke-width="1" fill="none"/>
<path d="M89 73 L94 73 L94 75 L89 75 Z M98 73 L103 73 L103 75 L98 75 Z" fill="#8a8e9a"/>
<!-- guitar neck -->
<path d="M88 118 L186 66 L186 77 L95 127 Z" fill="#c66638"/>
<path d="M90 121 L186 70" stroke="#e08a5a" stroke-width="0.8"/>
<path d="M108 110 l3 6 M120 104 l3 6 M132 97 l3 6 M144 91 l3 6 M156 84 l3 6 M168 78 l3 6" stroke="#9a4a28" stroke-width="0.6"/>
<!-- right glove -->
<path d="M145 86 C150 80 160 78 166 82 C170 88 168 98 160 102 C154 104 148 102 144 98 Z" fill="#f2f2f6"/>
<path d="M148 92 C154 94 160 94 164 90" stroke="#b8bcc8" stroke-width="1" fill="none"/>
<!-- guitar body -->
<path d="M43 131 C50 130 58 131 63 131 C70 125 75 116 80 111 C85 107 90 105 96 104 C101 103 103 106 101 110 L97 128 C103 130 109 133 113 136 C116 138 117 141 115 143 C112 145 110 145 108 145 C100 148 93 152 88 156 C83 161 79 166 75.6 169.3 C71 173 68 175 64.5 176.8 C60 179 58 180 55 180.5 C50 180 45 178 42 175 C39 168 38 158 38.4 150.8 C38.6 145 39 138 40 135 C41 133 42 132 43 131 Z" fill="#1f6ee0"/>
<path d="M40 136 C38.6 145 38 158 39 168 C41 175 46 179 55 180.5" stroke="#70aaf4" stroke-width="1.3" fill="none"/>
<path d="M108 145 C100 148 93 152 88 156 C83 161 79 166 75.6 169.3" stroke="#6aa0ec" stroke-width="1.2" fill="none"/>
<ellipse cx="62" cy="165" rx="3.2" ry="2.6" fill="#b0c0dc"/>
<ellipse cx="70" cy="161" rx="3.2" ry="2.6" fill="#b0c0dc"/>
<ellipse cx="62" cy="165" rx="1.5" ry="1.1" fill="#2a3a5a"/>
<ellipse cx="70" cy="161" rx="1.5" ry="1.1" fill="#2a3a5a"/>
<!-- left glove -->
<path d="M55 123 C63 118 74 119 82 126 C87 130 88 136 84 140 C78 143 70 142 64 139 C60 136 56 132 55 128 Z" fill="#f2f2f6"/><path d="M70 134 C74 136 78 136 82 134" stroke="#b8bcc8" stroke-width="0.8" fill="none"/>
<path d="M64 139 L80 141 L78 144 L66 143 Z" fill="#2a2e38"/>
</g></g>
</svg>


<div class="txt" style="left:-96.7px;top:450px;font-size:18px;line-height:20px;transform:scaleX(1.025);">Random noise</div>
<div class="txt" style="left:464.7px;top:450px;font-size:17.7px;line-height:20px;transform:scaleX(1.108);">Output</div>
</body></html>
